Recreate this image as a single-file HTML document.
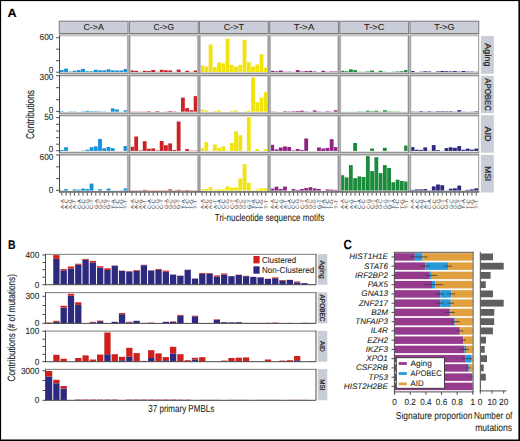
<!DOCTYPE html>
<html><head><meta charset="utf-8"><title>Figure</title>
<style>html,body{margin:0;padding:0;background:#fff;width:520px;height:441px;overflow:hidden;}
svg text{font-family:"Liberation Sans", sans-serif;stroke:#231f20;stroke-width:0.08px;}</style></head>
<body>
<svg width="520" height="441" viewBox="0 0 520 441" style="display:block">
<g font-family='"Liberation Sans", sans-serif' text-rendering="geometricPrecision">
<rect x="0.00" y="0.00" width="520.00" height="441.00" fill="#fff"/>
<text x="7.4" y="17.3" font-size="12" font-weight="bold" fill="#000" textLength="9.2" lengthAdjust="spacingAndGlyphs">A</text>
<rect x="59.25" y="21.20" width="68.80" height="12.30" fill="#c9cdd8" stroke="#7a7a7a" stroke-width="1"/>
<text x="93.65" y="30.00" font-size="8.6" fill="#231f20" text-anchor="middle" textLength="20.4" lengthAdjust="spacingAndGlyphs">C-&gt;A</text>
<rect x="129.39" y="21.20" width="68.80" height="12.30" fill="#c9cdd8" stroke="#7a7a7a" stroke-width="1"/>
<text x="163.79" y="30.00" font-size="8.6" fill="#231f20" text-anchor="middle" textLength="20.4" lengthAdjust="spacingAndGlyphs">C-&gt;G</text>
<rect x="199.53" y="21.20" width="68.80" height="12.30" fill="#c9cdd8" stroke="#7a7a7a" stroke-width="1"/>
<text x="233.93" y="30.00" font-size="8.6" fill="#231f20" text-anchor="middle" textLength="20.4" lengthAdjust="spacingAndGlyphs">C-&gt;T</text>
<rect x="269.67" y="21.20" width="68.80" height="12.30" fill="#c9cdd8" stroke="#7a7a7a" stroke-width="1"/>
<text x="304.07" y="30.00" font-size="8.6" fill="#231f20" text-anchor="middle" textLength="20.4" lengthAdjust="spacingAndGlyphs">T-&gt;A</text>
<rect x="339.81" y="21.20" width="68.80" height="12.30" fill="#c9cdd8" stroke="#7a7a7a" stroke-width="1"/>
<text x="374.21" y="30.00" font-size="8.6" fill="#231f20" text-anchor="middle" textLength="20.4" lengthAdjust="spacingAndGlyphs">T-&gt;C</text>
<rect x="409.95" y="21.20" width="68.80" height="12.30" fill="#c9cdd8" stroke="#7a7a7a" stroke-width="1"/>
<text x="444.35" y="30.00" font-size="8.6" fill="#231f20" text-anchor="middle" textLength="20.4" lengthAdjust="spacingAndGlyphs">T-&gt;G</text>
<rect x="59.00" y="34.00" width="420.00" height="2.40" fill="#c4c4c4"/>
<rect x="59.89" y="70.10" width="3.82" height="2.20" fill="#1890d8"/>
<rect x="64.13" y="68.60" width="3.82" height="3.70" fill="#1890d8"/>
<rect x="68.38" y="71.60" width="3.82" height="0.70" fill="#1890d8"/>
<rect x="72.63" y="70.80" width="3.82" height="1.50" fill="#1890d8"/>
<rect x="76.87" y="70.10" width="3.82" height="2.20" fill="#1890d8"/>
<rect x="81.12" y="68.90" width="3.82" height="3.40" fill="#1890d8"/>
<rect x="85.37" y="71.30" width="3.82" height="1.00" fill="#1890d8"/>
<rect x="89.62" y="71.30" width="3.82" height="1.00" fill="#1890d8"/>
<rect x="93.86" y="69.80" width="3.82" height="2.50" fill="#1890d8"/>
<rect x="98.11" y="70.30" width="3.82" height="2.00" fill="#1890d8"/>
<rect x="102.36" y="70.30" width="3.82" height="2.00" fill="#1890d8"/>
<rect x="106.60" y="69.30" width="3.82" height="3.00" fill="#1890d8"/>
<rect x="110.85" y="70.30" width="3.82" height="2.00" fill="#1890d8"/>
<rect x="115.10" y="70.50" width="3.82" height="1.80" fill="#1890d8"/>
<rect x="119.34" y="70.50" width="3.82" height="1.80" fill="#1890d8"/>
<rect x="123.59" y="69.00" width="3.82" height="3.30" fill="#1890d8"/>
<rect x="130.03" y="70.40" width="3.82" height="1.90" fill="#cc2127"/>
<rect x="134.27" y="70.80" width="3.82" height="1.50" fill="#cc2127"/>
<rect x="138.52" y="71.90" width="3.82" height="0.40" fill="#cc2127"/>
<rect x="142.77" y="70.80" width="3.82" height="1.50" fill="#cc2127"/>
<rect x="147.01" y="71.10" width="3.82" height="1.20" fill="#cc2127"/>
<rect x="151.26" y="70.00" width="3.82" height="2.30" fill="#cc2127"/>
<rect x="155.51" y="71.80" width="3.82" height="0.50" fill="#cc2127"/>
<rect x="159.76" y="69.80" width="3.82" height="2.50" fill="#cc2127"/>
<rect x="164.00" y="70.30" width="3.82" height="2.00" fill="#cc2127"/>
<rect x="168.25" y="70.40" width="3.82" height="1.90" fill="#cc2127"/>
<rect x="172.50" y="71.90" width="3.82" height="0.40" fill="#cc2127"/>
<rect x="176.74" y="69.60" width="3.82" height="2.70" fill="#cc2127"/>
<rect x="180.99" y="72.10" width="3.82" height="0.20" fill="#cc2127"/>
<rect x="185.24" y="70.80" width="3.82" height="1.50" fill="#cc2127"/>
<rect x="189.48" y="71.90" width="3.82" height="0.40" fill="#cc2127"/>
<rect x="193.73" y="70.40" width="3.82" height="1.90" fill="#cc2127"/>
<rect x="200.17" y="65.60" width="3.82" height="6.70" fill="#f1e30c"/>
<rect x="204.41" y="66.50" width="3.82" height="5.80" fill="#f1e30c"/>
<rect x="208.66" y="44.40" width="3.82" height="27.90" fill="#f1e30c"/>
<rect x="212.91" y="67.10" width="3.82" height="5.20" fill="#f1e30c"/>
<rect x="217.15" y="62.40" width="3.82" height="9.90" fill="#f1e30c"/>
<rect x="221.40" y="63.30" width="3.82" height="9.00" fill="#f1e30c"/>
<rect x="225.65" y="38.60" width="3.82" height="33.70" fill="#f1e30c"/>
<rect x="229.90" y="64.80" width="3.82" height="7.50" fill="#f1e30c"/>
<rect x="234.14" y="66.60" width="3.82" height="5.70" fill="#f1e30c"/>
<rect x="238.39" y="64.80" width="3.82" height="7.50" fill="#f1e30c"/>
<rect x="242.64" y="39.80" width="3.82" height="32.50" fill="#f1e30c"/>
<rect x="246.88" y="62.30" width="3.82" height="10.00" fill="#f1e30c"/>
<rect x="251.13" y="66.50" width="3.82" height="5.80" fill="#f1e30c"/>
<rect x="255.38" y="64.50" width="3.82" height="7.80" fill="#f1e30c"/>
<rect x="259.62" y="54.30" width="3.82" height="18.00" fill="#f1e30c"/>
<rect x="263.87" y="67.50" width="3.82" height="4.80" fill="#f1e30c"/>
<rect x="270.31" y="70.80" width="3.82" height="1.50" fill="#8e2383"/>
<rect x="274.55" y="71.30" width="3.82" height="1.00" fill="#8e2383"/>
<rect x="278.80" y="70.50" width="3.82" height="1.80" fill="#8e2383"/>
<rect x="283.05" y="71.70" width="3.82" height="0.60" fill="#8e2383"/>
<rect x="287.29" y="71.70" width="3.82" height="0.60" fill="#8e2383"/>
<rect x="291.54" y="71.90" width="3.82" height="0.40" fill="#8e2383"/>
<rect x="295.79" y="70.10" width="3.82" height="2.20" fill="#8e2383"/>
<rect x="300.04" y="71.50" width="3.82" height="0.80" fill="#8e2383"/>
<rect x="304.28" y="71.10" width="3.82" height="1.20" fill="#8e2383"/>
<rect x="308.53" y="70.80" width="3.82" height="1.50" fill="#8e2383"/>
<rect x="312.78" y="71.50" width="3.82" height="0.80" fill="#8e2383"/>
<rect x="317.02" y="72.00" width="3.82" height="0.30" fill="#8e2383"/>
<rect x="321.27" y="70.80" width="3.82" height="1.50" fill="#8e2383"/>
<rect x="325.52" y="71.80" width="3.82" height="0.50" fill="#8e2383"/>
<rect x="329.76" y="71.50" width="3.82" height="0.80" fill="#8e2383"/>
<rect x="334.01" y="71.50" width="3.82" height="0.80" fill="#8e2383"/>
<rect x="340.45" y="70.80" width="3.82" height="1.50" fill="#1c8c3c"/>
<rect x="344.69" y="71.30" width="3.82" height="1.00" fill="#1c8c3c"/>
<rect x="348.94" y="69.30" width="3.82" height="3.00" fill="#1c8c3c"/>
<rect x="353.19" y="70.10" width="3.82" height="2.20" fill="#1c8c3c"/>
<rect x="357.43" y="71.80" width="3.82" height="0.50" fill="#1c8c3c"/>
<rect x="361.68" y="71.80" width="3.82" height="0.50" fill="#1c8c3c"/>
<rect x="365.93" y="71.50" width="3.82" height="0.80" fill="#1c8c3c"/>
<rect x="370.18" y="70.50" width="3.82" height="1.80" fill="#1c8c3c"/>
<rect x="374.42" y="72.10" width="3.82" height="0.20" fill="#1c8c3c"/>
<rect x="378.67" y="70.80" width="3.82" height="1.50" fill="#1c8c3c"/>
<rect x="382.92" y="71.80" width="3.82" height="0.50" fill="#1c8c3c"/>
<rect x="387.16" y="72.10" width="3.82" height="0.20" fill="#1c8c3c"/>
<rect x="391.41" y="71.80" width="3.82" height="0.50" fill="#1c8c3c"/>
<rect x="395.66" y="71.50" width="3.82" height="0.80" fill="#1c8c3c"/>
<rect x="399.90" y="71.30" width="3.82" height="1.00" fill="#1c8c3c"/>
<rect x="404.15" y="70.00" width="3.82" height="2.30" fill="#1c8c3c"/>
<rect x="410.59" y="71.00" width="3.82" height="1.30" fill="#2b2a7d"/>
<rect x="414.83" y="72.00" width="3.82" height="0.30" fill="#2b2a7d"/>
<rect x="419.08" y="71.70" width="3.82" height="0.60" fill="#2b2a7d"/>
<rect x="423.33" y="71.30" width="3.82" height="1.00" fill="#2b2a7d"/>
<rect x="427.57" y="71.50" width="3.82" height="0.80" fill="#2b2a7d"/>
<rect x="431.82" y="72.10" width="3.82" height="0.20" fill="#2b2a7d"/>
<rect x="436.07" y="71.40" width="3.82" height="0.90" fill="#2b2a7d"/>
<rect x="440.32" y="71.00" width="3.82" height="1.30" fill="#2b2a7d"/>
<rect x="444.56" y="71.20" width="3.82" height="1.10" fill="#2b2a7d"/>
<rect x="448.81" y="71.40" width="3.82" height="0.90" fill="#2b2a7d"/>
<rect x="453.06" y="71.10" width="3.82" height="1.20" fill="#2b2a7d"/>
<rect x="457.30" y="71.70" width="3.82" height="0.60" fill="#2b2a7d"/>
<rect x="461.55" y="71.00" width="3.82" height="1.30" fill="#2b2a7d"/>
<rect x="465.80" y="71.60" width="3.82" height="0.70" fill="#2b2a7d"/>
<rect x="470.04" y="71.60" width="3.82" height="0.70" fill="#2b2a7d"/>
<rect x="474.29" y="71.80" width="3.82" height="0.50" fill="#2b2a7d"/>
<rect x="59.89" y="111.20" width="3.82" height="0.50" fill="#1890d8"/>
<rect x="68.38" y="111.40" width="3.82" height="0.30" fill="#1890d8"/>
<rect x="72.63" y="111.40" width="3.82" height="0.30" fill="#1890d8"/>
<rect x="81.12" y="111.40" width="3.82" height="0.30" fill="#1890d8"/>
<rect x="85.37" y="110.90" width="3.82" height="0.80" fill="#1890d8"/>
<rect x="89.62" y="111.20" width="3.82" height="0.50" fill="#1890d8"/>
<rect x="93.86" y="111.20" width="3.82" height="0.50" fill="#1890d8"/>
<rect x="98.11" y="111.40" width="3.82" height="0.30" fill="#1890d8"/>
<rect x="102.36" y="111.40" width="3.82" height="0.30" fill="#1890d8"/>
<rect x="110.85" y="108.40" width="3.82" height="3.30" fill="#1890d8"/>
<rect x="115.10" y="109.50" width="3.82" height="2.20" fill="#1890d8"/>
<rect x="123.59" y="110.20" width="3.82" height="1.50" fill="#1890d8"/>
<rect x="130.03" y="111.50" width="3.82" height="0.20" fill="#cc2127"/>
<rect x="134.27" y="111.50" width="3.82" height="0.20" fill="#cc2127"/>
<rect x="138.52" y="111.50" width="3.82" height="0.20" fill="#cc2127"/>
<rect x="142.77" y="111.50" width="3.82" height="0.20" fill="#cc2127"/>
<rect x="147.01" y="111.20" width="3.82" height="0.50" fill="#cc2127"/>
<rect x="155.51" y="111.10" width="3.82" height="0.60" fill="#cc2127"/>
<rect x="164.00" y="111.50" width="3.82" height="0.20" fill="#cc2127"/>
<rect x="168.25" y="111.10" width="3.82" height="0.60" fill="#cc2127"/>
<rect x="172.50" y="111.40" width="3.82" height="0.30" fill="#cc2127"/>
<rect x="180.99" y="97.60" width="3.82" height="14.10" fill="#cc2127"/>
<rect x="185.24" y="108.10" width="3.82" height="3.60" fill="#cc2127"/>
<rect x="189.48" y="110.20" width="3.82" height="1.50" fill="#cc2127"/>
<rect x="193.73" y="96.10" width="3.82" height="15.60" fill="#cc2127"/>
<rect x="200.17" y="109.60" width="3.82" height="2.10" fill="#f1e30c"/>
<rect x="204.41" y="110.40" width="3.82" height="1.30" fill="#f1e30c"/>
<rect x="212.91" y="111.10" width="3.82" height="0.60" fill="#f1e30c"/>
<rect x="217.15" y="110.40" width="3.82" height="1.30" fill="#f1e30c"/>
<rect x="229.90" y="111.10" width="3.82" height="0.60" fill="#f1e30c"/>
<rect x="234.14" y="110.40" width="3.82" height="1.30" fill="#f1e30c"/>
<rect x="242.64" y="111.40" width="3.82" height="0.30" fill="#f1e30c"/>
<rect x="246.88" y="110.70" width="3.82" height="1.00" fill="#f1e30c"/>
<rect x="251.13" y="77.50" width="3.82" height="34.20" fill="#f1e30c"/>
<rect x="255.38" y="102.10" width="3.82" height="9.60" fill="#f1e30c"/>
<rect x="259.62" y="97.60" width="3.82" height="14.10" fill="#f1e30c"/>
<rect x="263.87" y="92.20" width="3.82" height="19.50" fill="#f1e30c"/>
<rect x="270.31" y="111.40" width="3.82" height="0.30" fill="#8e2383"/>
<rect x="274.55" y="111.60" width="3.82" height="0.10" fill="#8e2383"/>
<rect x="283.05" y="111.20" width="3.82" height="0.50" fill="#8e2383"/>
<rect x="287.29" y="111.40" width="3.82" height="0.30" fill="#8e2383"/>
<rect x="291.54" y="111.20" width="3.82" height="0.50" fill="#8e2383"/>
<rect x="295.79" y="111.00" width="3.82" height="0.70" fill="#8e2383"/>
<rect x="300.04" y="110.70" width="3.82" height="1.00" fill="#8e2383"/>
<rect x="304.28" y="111.40" width="3.82" height="0.30" fill="#8e2383"/>
<rect x="308.53" y="111.60" width="3.82" height="0.10" fill="#8e2383"/>
<rect x="312.78" y="110.40" width="3.82" height="1.30" fill="#8e2383"/>
<rect x="317.02" y="111.40" width="3.82" height="0.30" fill="#8e2383"/>
<rect x="321.27" y="111.60" width="3.82" height="0.10" fill="#8e2383"/>
<rect x="325.52" y="111.20" width="3.82" height="0.50" fill="#8e2383"/>
<rect x="329.76" y="111.50" width="3.82" height="0.20" fill="#8e2383"/>
<rect x="334.01" y="110.20" width="3.82" height="1.50" fill="#8e2383"/>
<rect x="340.45" y="111.60" width="3.82" height="0.10" fill="#1c8c3c"/>
<rect x="344.69" y="111.60" width="3.82" height="0.10" fill="#1c8c3c"/>
<rect x="348.94" y="111.60" width="3.82" height="0.10" fill="#1c8c3c"/>
<rect x="353.19" y="111.60" width="3.82" height="0.10" fill="#1c8c3c"/>
<rect x="357.43" y="111.40" width="3.82" height="0.30" fill="#1c8c3c"/>
<rect x="361.68" y="111.50" width="3.82" height="0.20" fill="#1c8c3c"/>
<rect x="365.93" y="110.70" width="3.82" height="1.00" fill="#1c8c3c"/>
<rect x="370.18" y="111.20" width="3.82" height="0.50" fill="#1c8c3c"/>
<rect x="374.42" y="110.70" width="3.82" height="1.00" fill="#1c8c3c"/>
<rect x="378.67" y="111.50" width="3.82" height="0.20" fill="#1c8c3c"/>
<rect x="382.92" y="110.20" width="3.82" height="1.50" fill="#1c8c3c"/>
<rect x="387.16" y="111.30" width="3.82" height="0.40" fill="#1c8c3c"/>
<rect x="391.41" y="111.40" width="3.82" height="0.30" fill="#1c8c3c"/>
<rect x="395.66" y="111.40" width="3.82" height="0.30" fill="#1c8c3c"/>
<rect x="399.90" y="111.60" width="3.82" height="0.10" fill="#1c8c3c"/>
<rect x="404.15" y="111.60" width="3.82" height="0.10" fill="#1c8c3c"/>
<rect x="410.59" y="111.40" width="3.82" height="0.30" fill="#2b2a7d"/>
<rect x="414.83" y="111.50" width="3.82" height="0.20" fill="#2b2a7d"/>
<rect x="419.08" y="111.10" width="3.82" height="0.60" fill="#2b2a7d"/>
<rect x="423.33" y="111.50" width="3.82" height="0.20" fill="#2b2a7d"/>
<rect x="427.57" y="111.20" width="3.82" height="0.50" fill="#2b2a7d"/>
<rect x="431.82" y="111.50" width="3.82" height="0.20" fill="#2b2a7d"/>
<rect x="436.07" y="111.20" width="3.82" height="0.50" fill="#2b2a7d"/>
<rect x="440.32" y="111.20" width="3.82" height="0.50" fill="#2b2a7d"/>
<rect x="444.56" y="111.20" width="3.82" height="0.50" fill="#2b2a7d"/>
<rect x="448.81" y="111.20" width="3.82" height="0.50" fill="#2b2a7d"/>
<rect x="453.06" y="111.50" width="3.82" height="0.20" fill="#2b2a7d"/>
<rect x="457.30" y="110.20" width="3.82" height="1.50" fill="#2b2a7d"/>
<rect x="461.55" y="111.50" width="3.82" height="0.20" fill="#2b2a7d"/>
<rect x="465.80" y="111.60" width="3.82" height="0.10" fill="#2b2a7d"/>
<rect x="470.04" y="111.50" width="3.82" height="0.20" fill="#2b2a7d"/>
<rect x="474.29" y="111.20" width="3.82" height="0.50" fill="#2b2a7d"/>
<rect x="59.89" y="150.00" width="3.82" height="0.90" fill="#1890d8"/>
<rect x="64.13" y="147.20" width="3.82" height="3.70" fill="#1890d8"/>
<rect x="81.12" y="150.60" width="3.82" height="0.30" fill="#1890d8"/>
<rect x="85.37" y="149.70" width="3.82" height="1.20" fill="#1890d8"/>
<rect x="89.62" y="147.20" width="3.82" height="3.70" fill="#1890d8"/>
<rect x="93.86" y="146.40" width="3.82" height="4.50" fill="#1890d8"/>
<rect x="98.11" y="138.90" width="3.82" height="12.00" fill="#1890d8"/>
<rect x="102.36" y="148.20" width="3.82" height="2.70" fill="#1890d8"/>
<rect x="106.60" y="147.00" width="3.82" height="3.90" fill="#1890d8"/>
<rect x="110.85" y="148.20" width="3.82" height="2.70" fill="#1890d8"/>
<rect x="123.59" y="146.00" width="3.82" height="4.90" fill="#1890d8"/>
<rect x="130.03" y="146.70" width="3.82" height="4.20" fill="#cc2127"/>
<rect x="134.27" y="136.50" width="3.82" height="14.40" fill="#cc2127"/>
<rect x="138.52" y="150.40" width="3.82" height="0.50" fill="#cc2127"/>
<rect x="142.77" y="141.20" width="3.82" height="9.70" fill="#cc2127"/>
<rect x="147.01" y="148.70" width="3.82" height="2.20" fill="#cc2127"/>
<rect x="151.26" y="148.40" width="3.82" height="2.50" fill="#cc2127"/>
<rect x="155.51" y="150.40" width="3.82" height="0.50" fill="#cc2127"/>
<rect x="159.76" y="141.00" width="3.82" height="9.90" fill="#cc2127"/>
<rect x="164.00" y="145.20" width="3.82" height="5.70" fill="#cc2127"/>
<rect x="168.25" y="143.40" width="3.82" height="7.50" fill="#cc2127"/>
<rect x="172.50" y="150.00" width="3.82" height="0.90" fill="#cc2127"/>
<rect x="176.74" y="121.50" width="3.82" height="29.40" fill="#cc2127"/>
<rect x="185.24" y="149.10" width="3.82" height="1.80" fill="#cc2127"/>
<rect x="189.48" y="150.60" width="3.82" height="0.30" fill="#cc2127"/>
<rect x="193.73" y="150.60" width="3.82" height="0.30" fill="#cc2127"/>
<rect x="200.17" y="148.20" width="3.82" height="2.70" fill="#f1e30c"/>
<rect x="204.41" y="142.20" width="3.82" height="8.70" fill="#f1e30c"/>
<rect x="212.91" y="144.50" width="3.82" height="6.40" fill="#f1e30c"/>
<rect x="217.15" y="147.90" width="3.82" height="3.00" fill="#f1e30c"/>
<rect x="221.40" y="146.40" width="3.82" height="4.50" fill="#f1e30c"/>
<rect x="229.90" y="143.00" width="3.82" height="7.90" fill="#f1e30c"/>
<rect x="234.14" y="131.40" width="3.82" height="19.50" fill="#f1e30c"/>
<rect x="238.39" y="135.20" width="3.82" height="15.70" fill="#f1e30c"/>
<rect x="246.88" y="117.20" width="3.82" height="33.70" fill="#f1e30c"/>
<rect x="255.38" y="149.00" width="3.82" height="1.90" fill="#f1e30c"/>
<rect x="263.87" y="149.10" width="3.82" height="1.80" fill="#f1e30c"/>
<rect x="270.31" y="144.80" width="3.82" height="6.10" fill="#8e2383"/>
<rect x="274.55" y="149.40" width="3.82" height="1.50" fill="#8e2383"/>
<rect x="278.80" y="147.50" width="3.82" height="3.40" fill="#8e2383"/>
<rect x="283.05" y="146.40" width="3.82" height="4.50" fill="#8e2383"/>
<rect x="287.29" y="147.00" width="3.82" height="3.90" fill="#8e2383"/>
<rect x="291.54" y="150.40" width="3.82" height="0.50" fill="#8e2383"/>
<rect x="295.79" y="149.00" width="3.82" height="1.90" fill="#8e2383"/>
<rect x="300.04" y="150.00" width="3.82" height="0.90" fill="#8e2383"/>
<rect x="304.28" y="138.50" width="3.82" height="12.40" fill="#8e2383"/>
<rect x="317.02" y="147.50" width="3.82" height="3.40" fill="#8e2383"/>
<rect x="321.27" y="148.50" width="3.82" height="2.40" fill="#8e2383"/>
<rect x="325.52" y="147.90" width="3.82" height="3.00" fill="#8e2383"/>
<rect x="329.76" y="139.20" width="3.82" height="11.70" fill="#8e2383"/>
<rect x="334.01" y="147.00" width="3.82" height="3.90" fill="#8e2383"/>
<rect x="353.19" y="143.00" width="3.82" height="7.90" fill="#1c8c3c"/>
<rect x="370.18" y="148.50" width="3.82" height="2.40" fill="#1c8c3c"/>
<rect x="382.92" y="147.80" width="3.82" height="3.10" fill="#1c8c3c"/>
<rect x="404.15" y="145.50" width="3.82" height="5.40" fill="#1c8c3c"/>
<rect x="410.59" y="147.10" width="3.82" height="3.80" fill="#2b2a7d"/>
<rect x="414.83" y="149.70" width="3.82" height="1.20" fill="#2b2a7d"/>
<rect x="419.08" y="149.90" width="3.82" height="1.00" fill="#2b2a7d"/>
<rect x="423.33" y="147.40" width="3.82" height="3.50" fill="#2b2a7d"/>
<rect x="427.57" y="150.70" width="3.82" height="0.20" fill="#2b2a7d"/>
<rect x="431.82" y="145.10" width="3.82" height="5.80" fill="#2b2a7d"/>
<rect x="436.07" y="150.10" width="3.82" height="0.80" fill="#2b2a7d"/>
<rect x="440.32" y="150.80" width="3.82" height="0.10" fill="#2b2a7d"/>
<rect x="444.56" y="148.10" width="3.82" height="2.80" fill="#2b2a7d"/>
<rect x="448.81" y="147.30" width="3.82" height="3.60" fill="#2b2a7d"/>
<rect x="453.06" y="147.80" width="3.82" height="3.10" fill="#2b2a7d"/>
<rect x="457.30" y="146.10" width="3.82" height="4.80" fill="#2b2a7d"/>
<rect x="461.55" y="149.70" width="3.82" height="1.20" fill="#2b2a7d"/>
<rect x="465.80" y="148.60" width="3.82" height="2.30" fill="#2b2a7d"/>
<rect x="470.04" y="149.60" width="3.82" height="1.30" fill="#2b2a7d"/>
<rect x="474.29" y="148.60" width="3.82" height="2.30" fill="#2b2a7d"/>
<rect x="59.89" y="190.30" width="3.82" height="0.30" fill="#1890d8"/>
<rect x="64.13" y="189.10" width="3.82" height="1.50" fill="#1890d8"/>
<rect x="72.63" y="189.40" width="3.82" height="1.20" fill="#1890d8"/>
<rect x="76.87" y="189.70" width="3.82" height="0.90" fill="#1890d8"/>
<rect x="81.12" y="188.60" width="3.82" height="2.00" fill="#1890d8"/>
<rect x="85.37" y="189.00" width="3.82" height="1.60" fill="#1890d8"/>
<rect x="89.62" y="183.60" width="3.82" height="7.00" fill="#1890d8"/>
<rect x="98.11" y="189.20" width="3.82" height="1.40" fill="#1890d8"/>
<rect x="106.60" y="188.60" width="3.82" height="2.00" fill="#1890d8"/>
<rect x="110.85" y="190.40" width="3.82" height="0.20" fill="#1890d8"/>
<rect x="115.10" y="190.40" width="3.82" height="0.20" fill="#1890d8"/>
<rect x="119.34" y="190.30" width="3.82" height="0.30" fill="#1890d8"/>
<rect x="123.59" y="188.40" width="3.82" height="2.20" fill="#1890d8"/>
<rect x="130.03" y="190.30" width="3.82" height="0.30" fill="#cc2127"/>
<rect x="134.27" y="190.30" width="3.82" height="0.30" fill="#cc2127"/>
<rect x="138.52" y="190.30" width="3.82" height="0.30" fill="#cc2127"/>
<rect x="142.77" y="189.80" width="3.82" height="0.80" fill="#cc2127"/>
<rect x="147.01" y="190.30" width="3.82" height="0.30" fill="#cc2127"/>
<rect x="151.26" y="190.30" width="3.82" height="0.30" fill="#cc2127"/>
<rect x="155.51" y="190.30" width="3.82" height="0.30" fill="#cc2127"/>
<rect x="159.76" y="190.30" width="3.82" height="0.30" fill="#cc2127"/>
<rect x="164.00" y="190.30" width="3.82" height="0.30" fill="#cc2127"/>
<rect x="168.25" y="189.40" width="3.82" height="1.20" fill="#cc2127"/>
<rect x="172.50" y="190.30" width="3.82" height="0.30" fill="#cc2127"/>
<rect x="176.74" y="189.80" width="3.82" height="0.80" fill="#cc2127"/>
<rect x="180.99" y="190.30" width="3.82" height="0.30" fill="#cc2127"/>
<rect x="185.24" y="190.00" width="3.82" height="0.60" fill="#cc2127"/>
<rect x="189.48" y="190.30" width="3.82" height="0.30" fill="#cc2127"/>
<rect x="193.73" y="190.30" width="3.82" height="0.30" fill="#cc2127"/>
<rect x="200.17" y="189.40" width="3.82" height="1.20" fill="#f1e30c"/>
<rect x="204.41" y="189.00" width="3.82" height="1.60" fill="#f1e30c"/>
<rect x="208.66" y="187.20" width="3.82" height="3.40" fill="#f1e30c"/>
<rect x="212.91" y="189.90" width="3.82" height="0.70" fill="#f1e30c"/>
<rect x="217.15" y="189.40" width="3.82" height="1.20" fill="#f1e30c"/>
<rect x="221.40" y="189.30" width="3.82" height="1.30" fill="#f1e30c"/>
<rect x="225.65" y="186.40" width="3.82" height="4.20" fill="#f1e30c"/>
<rect x="229.90" y="187.60" width="3.82" height="3.00" fill="#f1e30c"/>
<rect x="234.14" y="187.50" width="3.82" height="3.10" fill="#f1e30c"/>
<rect x="238.39" y="178.60" width="3.82" height="12.00" fill="#f1e30c"/>
<rect x="242.64" y="164.20" width="3.82" height="26.40" fill="#f1e30c"/>
<rect x="246.88" y="182.70" width="3.82" height="7.90" fill="#f1e30c"/>
<rect x="251.13" y="190.30" width="3.82" height="0.30" fill="#f1e30c"/>
<rect x="255.38" y="189.40" width="3.82" height="1.20" fill="#f1e30c"/>
<rect x="259.62" y="188.40" width="3.82" height="2.20" fill="#f1e30c"/>
<rect x="263.87" y="188.40" width="3.82" height="2.20" fill="#f1e30c"/>
<rect x="270.31" y="188.60" width="3.82" height="2.00" fill="#8e2383"/>
<rect x="274.55" y="186.70" width="3.82" height="3.90" fill="#8e2383"/>
<rect x="278.80" y="189.00" width="3.82" height="1.60" fill="#8e2383"/>
<rect x="283.05" y="186.60" width="3.82" height="4.00" fill="#8e2383"/>
<rect x="291.54" y="189.00" width="3.82" height="1.60" fill="#8e2383"/>
<rect x="295.79" y="189.90" width="3.82" height="0.70" fill="#8e2383"/>
<rect x="300.04" y="189.00" width="3.82" height="1.60" fill="#8e2383"/>
<rect x="304.28" y="188.10" width="3.82" height="2.50" fill="#8e2383"/>
<rect x="308.53" y="187.20" width="3.82" height="3.40" fill="#8e2383"/>
<rect x="312.78" y="188.40" width="3.82" height="2.20" fill="#8e2383"/>
<rect x="317.02" y="189.00" width="3.82" height="1.60" fill="#8e2383"/>
<rect x="325.52" y="189.40" width="3.82" height="1.20" fill="#8e2383"/>
<rect x="329.76" y="189.60" width="3.82" height="1.00" fill="#8e2383"/>
<rect x="334.01" y="189.90" width="3.82" height="0.70" fill="#8e2383"/>
<rect x="340.45" y="175.20" width="3.82" height="15.40" fill="#1c8c3c"/>
<rect x="344.69" y="177.40" width="3.82" height="13.20" fill="#1c8c3c"/>
<rect x="348.94" y="165.10" width="3.82" height="25.50" fill="#1c8c3c"/>
<rect x="353.19" y="178.20" width="3.82" height="12.40" fill="#1c8c3c"/>
<rect x="357.43" y="176.40" width="3.82" height="14.20" fill="#1c8c3c"/>
<rect x="361.68" y="177.00" width="3.82" height="13.60" fill="#1c8c3c"/>
<rect x="365.93" y="156.10" width="3.82" height="34.50" fill="#1c8c3c"/>
<rect x="370.18" y="171.10" width="3.82" height="19.50" fill="#1c8c3c"/>
<rect x="374.42" y="157.20" width="3.82" height="33.40" fill="#1c8c3c"/>
<rect x="378.67" y="173.10" width="3.82" height="17.50" fill="#1c8c3c"/>
<rect x="382.92" y="165.10" width="3.82" height="25.50" fill="#1c8c3c"/>
<rect x="387.16" y="168.00" width="3.82" height="22.60" fill="#1c8c3c"/>
<rect x="391.41" y="182.20" width="3.82" height="8.40" fill="#1c8c3c"/>
<rect x="395.66" y="179.70" width="3.82" height="10.90" fill="#1c8c3c"/>
<rect x="399.90" y="180.90" width="3.82" height="9.70" fill="#1c8c3c"/>
<rect x="404.15" y="181.50" width="3.82" height="9.10" fill="#1c8c3c"/>
<rect x="410.59" y="189.90" width="3.82" height="0.70" fill="#2b2a7d"/>
<rect x="414.83" y="189.40" width="3.82" height="1.20" fill="#2b2a7d"/>
<rect x="419.08" y="189.40" width="3.82" height="1.20" fill="#2b2a7d"/>
<rect x="423.33" y="189.10" width="3.82" height="1.50" fill="#2b2a7d"/>
<rect x="427.57" y="190.30" width="3.82" height="0.30" fill="#2b2a7d"/>
<rect x="431.82" y="186.40" width="3.82" height="4.20" fill="#2b2a7d"/>
<rect x="436.07" y="184.50" width="3.82" height="6.10" fill="#2b2a7d"/>
<rect x="440.32" y="185.20" width="3.82" height="5.40" fill="#2b2a7d"/>
<rect x="444.56" y="190.40" width="3.82" height="0.20" fill="#2b2a7d"/>
<rect x="448.81" y="188.70" width="3.82" height="1.90" fill="#2b2a7d"/>
<rect x="453.06" y="188.30" width="3.82" height="2.30" fill="#2b2a7d"/>
<rect x="457.30" y="185.60" width="3.82" height="5.00" fill="#2b2a7d"/>
<rect x="461.55" y="190.40" width="3.82" height="0.20" fill="#2b2a7d"/>
<rect x="465.80" y="189.80" width="3.82" height="0.80" fill="#2b2a7d"/>
<rect x="470.04" y="189.30" width="3.82" height="1.30" fill="#2b2a7d"/>
<rect x="474.29" y="188.30" width="3.82" height="2.30" fill="#2b2a7d"/>
<rect x="59.50" y="72.20" width="419.40" height="4.50" fill="#cfcfcf"/>
<rect x="59.50" y="112.10" width="419.40" height="4.50" fill="#cfcfcf"/>
<rect x="59.50" y="151.40" width="419.40" height="4.50" fill="#cfcfcf"/>
<rect x="126.80" y="34.50" width="4.00" height="157.90" fill="#cfcfcf"/>
<rect x="196.94" y="34.50" width="4.00" height="157.90" fill="#cfcfcf"/>
<rect x="267.08" y="34.50" width="4.00" height="157.90" fill="#cfcfcf"/>
<rect x="337.22" y="34.50" width="4.00" height="157.90" fill="#cfcfcf"/>
<rect x="407.36" y="34.50" width="4.00" height="157.90" fill="#cfcfcf"/>
<rect x="59.05" y="72.95" width="69.40" height="0.90" fill="#8a8a8a"/>
<rect x="127.55" y="35.15" width="0.90" height="38.70" fill="#8a8a8a"/>
<rect x="129.15" y="72.95" width="69.44" height="0.90" fill="#8a8a8a"/>
<rect x="197.69" y="35.15" width="0.90" height="38.70" fill="#8a8a8a"/>
<rect x="129.15" y="35.15" width="0.90" height="38.70" fill="#8a8a8a"/>
<rect x="199.29" y="72.95" width="69.44" height="0.90" fill="#8a8a8a"/>
<rect x="267.83" y="35.15" width="0.90" height="38.70" fill="#8a8a8a"/>
<rect x="199.29" y="35.15" width="0.90" height="38.70" fill="#8a8a8a"/>
<rect x="269.43" y="72.95" width="69.44" height="0.90" fill="#8a8a8a"/>
<rect x="337.97" y="35.15" width="0.90" height="38.70" fill="#8a8a8a"/>
<rect x="269.43" y="35.15" width="0.90" height="38.70" fill="#8a8a8a"/>
<rect x="339.57" y="72.95" width="69.44" height="0.90" fill="#8a8a8a"/>
<rect x="408.11" y="35.15" width="0.90" height="38.70" fill="#8a8a8a"/>
<rect x="339.57" y="35.15" width="0.90" height="38.70" fill="#8a8a8a"/>
<rect x="409.71" y="72.95" width="69.44" height="0.90" fill="#8a8a8a"/>
<rect x="478.25" y="35.15" width="0.90" height="38.70" fill="#8a8a8a"/>
<rect x="409.71" y="35.15" width="0.90" height="38.70" fill="#8a8a8a"/>
<rect x="59.05" y="75.05" width="69.40" height="0.90" fill="#8a8a8a"/>
<rect x="59.05" y="112.85" width="69.40" height="0.90" fill="#8a8a8a"/>
<rect x="127.55" y="75.05" width="0.90" height="38.70" fill="#8a8a8a"/>
<rect x="129.15" y="75.05" width="69.44" height="0.90" fill="#8a8a8a"/>
<rect x="129.15" y="112.85" width="69.44" height="0.90" fill="#8a8a8a"/>
<rect x="197.69" y="75.05" width="0.90" height="38.70" fill="#8a8a8a"/>
<rect x="129.15" y="75.05" width="0.90" height="38.70" fill="#8a8a8a"/>
<rect x="199.29" y="75.05" width="69.44" height="0.90" fill="#8a8a8a"/>
<rect x="199.29" y="112.85" width="69.44" height="0.90" fill="#8a8a8a"/>
<rect x="267.83" y="75.05" width="0.90" height="38.70" fill="#8a8a8a"/>
<rect x="199.29" y="75.05" width="0.90" height="38.70" fill="#8a8a8a"/>
<rect x="269.43" y="75.05" width="69.44" height="0.90" fill="#8a8a8a"/>
<rect x="269.43" y="112.85" width="69.44" height="0.90" fill="#8a8a8a"/>
<rect x="337.97" y="75.05" width="0.90" height="38.70" fill="#8a8a8a"/>
<rect x="269.43" y="75.05" width="0.90" height="38.70" fill="#8a8a8a"/>
<rect x="339.57" y="75.05" width="69.44" height="0.90" fill="#8a8a8a"/>
<rect x="339.57" y="112.85" width="69.44" height="0.90" fill="#8a8a8a"/>
<rect x="408.11" y="75.05" width="0.90" height="38.70" fill="#8a8a8a"/>
<rect x="339.57" y="75.05" width="0.90" height="38.70" fill="#8a8a8a"/>
<rect x="409.71" y="75.05" width="69.44" height="0.90" fill="#8a8a8a"/>
<rect x="409.71" y="112.85" width="69.44" height="0.90" fill="#8a8a8a"/>
<rect x="478.25" y="75.05" width="0.90" height="38.70" fill="#8a8a8a"/>
<rect x="409.71" y="75.05" width="0.90" height="38.70" fill="#8a8a8a"/>
<rect x="59.05" y="114.95" width="69.40" height="0.90" fill="#8a8a8a"/>
<rect x="59.05" y="152.15" width="69.40" height="0.90" fill="#8a8a8a"/>
<rect x="127.55" y="114.95" width="0.90" height="38.10" fill="#8a8a8a"/>
<rect x="129.15" y="114.95" width="69.44" height="0.90" fill="#8a8a8a"/>
<rect x="129.15" y="152.15" width="69.44" height="0.90" fill="#8a8a8a"/>
<rect x="197.69" y="114.95" width="0.90" height="38.10" fill="#8a8a8a"/>
<rect x="129.15" y="114.95" width="0.90" height="38.10" fill="#8a8a8a"/>
<rect x="199.29" y="114.95" width="69.44" height="0.90" fill="#8a8a8a"/>
<rect x="199.29" y="152.15" width="69.44" height="0.90" fill="#8a8a8a"/>
<rect x="267.83" y="114.95" width="0.90" height="38.10" fill="#8a8a8a"/>
<rect x="199.29" y="114.95" width="0.90" height="38.10" fill="#8a8a8a"/>
<rect x="269.43" y="114.95" width="69.44" height="0.90" fill="#8a8a8a"/>
<rect x="269.43" y="152.15" width="69.44" height="0.90" fill="#8a8a8a"/>
<rect x="337.97" y="114.95" width="0.90" height="38.10" fill="#8a8a8a"/>
<rect x="269.43" y="114.95" width="0.90" height="38.10" fill="#8a8a8a"/>
<rect x="339.57" y="114.95" width="69.44" height="0.90" fill="#8a8a8a"/>
<rect x="339.57" y="152.15" width="69.44" height="0.90" fill="#8a8a8a"/>
<rect x="408.11" y="114.95" width="0.90" height="38.10" fill="#8a8a8a"/>
<rect x="339.57" y="114.95" width="0.90" height="38.10" fill="#8a8a8a"/>
<rect x="409.71" y="114.95" width="69.44" height="0.90" fill="#8a8a8a"/>
<rect x="409.71" y="152.15" width="69.44" height="0.90" fill="#8a8a8a"/>
<rect x="478.25" y="114.95" width="0.90" height="38.10" fill="#8a8a8a"/>
<rect x="409.71" y="114.95" width="0.90" height="38.10" fill="#8a8a8a"/>
<rect x="59.05" y="154.25" width="69.40" height="0.90" fill="#8a8a8a"/>
<rect x="127.55" y="154.25" width="0.90" height="38.10" fill="#8a8a8a"/>
<rect x="129.15" y="154.25" width="69.44" height="0.90" fill="#8a8a8a"/>
<rect x="197.69" y="154.25" width="0.90" height="38.10" fill="#8a8a8a"/>
<rect x="129.15" y="154.25" width="0.90" height="38.10" fill="#8a8a8a"/>
<rect x="199.29" y="154.25" width="69.44" height="0.90" fill="#8a8a8a"/>
<rect x="267.83" y="154.25" width="0.90" height="38.10" fill="#8a8a8a"/>
<rect x="199.29" y="154.25" width="0.90" height="38.10" fill="#8a8a8a"/>
<rect x="269.43" y="154.25" width="69.44" height="0.90" fill="#8a8a8a"/>
<rect x="337.97" y="154.25" width="0.90" height="38.10" fill="#8a8a8a"/>
<rect x="269.43" y="154.25" width="0.90" height="38.10" fill="#8a8a8a"/>
<rect x="339.57" y="154.25" width="69.44" height="0.90" fill="#8a8a8a"/>
<rect x="408.11" y="154.25" width="0.90" height="38.10" fill="#8a8a8a"/>
<rect x="339.57" y="154.25" width="0.90" height="38.10" fill="#8a8a8a"/>
<rect x="409.71" y="154.25" width="69.44" height="0.90" fill="#8a8a8a"/>
<rect x="478.25" y="154.25" width="0.90" height="38.10" fill="#8a8a8a"/>
<rect x="409.71" y="154.25" width="0.90" height="38.10" fill="#8a8a8a"/>
<rect x="59.00" y="35.10" width="1.00" height="38.80" fill="#4d4d4d"/>
<rect x="59.00" y="75.00" width="1.00" height="38.80" fill="#4d4d4d"/>
<rect x="59.00" y="114.90" width="1.00" height="38.20" fill="#4d4d4d"/>
<rect x="59.00" y="154.20" width="1.00" height="38.20" fill="#4d4d4d"/>
<rect x="59.00" y="191.30" width="69.50" height="1.30" fill="#444"/>
<rect x="129.00" y="191.30" width="69.64" height="1.30" fill="#444"/>
<rect x="199.14" y="191.30" width="69.64" height="1.30" fill="#444"/>
<rect x="269.28" y="191.30" width="69.64" height="1.30" fill="#444"/>
<rect x="339.42" y="191.30" width="69.64" height="1.30" fill="#444"/>
<rect x="409.56" y="191.30" width="69.64" height="1.30" fill="#444"/>
<rect x="480.90" y="36.10" width="12.90" height="37.60" fill="#c9cdd8"/>
<rect x="480.90" y="75.80" width="12.90" height="37.40" fill="#c9cdd8"/>
<rect x="480.90" y="115.30" width="12.90" height="37.40" fill="#c9cdd8"/>
<rect x="480.90" y="154.80" width="12.90" height="37.70" fill="#c9cdd8"/>
<text x="484.80" y="54.90" font-size="8.5" fill="#231f20" text-anchor="middle" textLength="23.1" lengthAdjust="spacingAndGlyphs" transform="rotate(90 484.80 54.90)" style="stroke-width:0.25px">Aging</text>
<text x="484.80" y="94.50" font-size="8.5" fill="#231f20" text-anchor="middle" textLength="32.6" lengthAdjust="spacingAndGlyphs" transform="rotate(90 484.80 94.50)" style="stroke-width:0.25px">APOBEC</text>
<text x="484.80" y="134.00" font-size="8.5" fill="#231f20" text-anchor="middle" textLength="14.9" lengthAdjust="spacingAndGlyphs" transform="rotate(90 484.80 134.00)" style="stroke-width:0.25px">AID</text>
<text x="484.80" y="173.65" font-size="8.5" fill="#231f20" text-anchor="middle" textLength="14.9" lengthAdjust="spacingAndGlyphs" transform="rotate(90 484.80 173.65)" style="stroke-width:0.25px">MSI</text>
<rect x="56.10" y="37.20" width="3.20" height="1.00" fill="#4d4d4d"/>
<rect x="56.10" y="48.70" width="3.20" height="1.00" fill="#4d4d4d"/>
<rect x="56.10" y="60.20" width="3.20" height="1.00" fill="#4d4d4d"/>
<rect x="56.10" y="71.70" width="3.20" height="1.00" fill="#4d4d4d"/>
<text x="53.40" y="40.45" font-size="8.9" fill="#231f20" text-anchor="end" textLength="13.799999999999999" lengthAdjust="spacingAndGlyphs">600</text>
<text x="53.40" y="73.25" font-size="8.9" fill="#231f20" text-anchor="end" textLength="4.6" lengthAdjust="spacingAndGlyphs">0</text>
<rect x="56.10" y="75.20" width="3.20" height="1.00" fill="#4d4d4d"/>
<rect x="56.10" y="87.20" width="3.20" height="1.00" fill="#4d4d4d"/>
<rect x="56.10" y="99.20" width="3.20" height="1.00" fill="#4d4d4d"/>
<rect x="56.10" y="110.90" width="3.20" height="1.00" fill="#4d4d4d"/>
<text x="53.40" y="79.90" font-size="8.9" fill="#231f20" text-anchor="end" textLength="13.799999999999999" lengthAdjust="spacingAndGlyphs">300</text>
<text x="53.40" y="112.55" font-size="8.9" fill="#231f20" text-anchor="end" textLength="4.6" lengthAdjust="spacingAndGlyphs">0</text>
<rect x="56.10" y="117.10" width="3.20" height="1.00" fill="#4d4d4d"/>
<rect x="56.10" y="123.80" width="3.20" height="1.00" fill="#4d4d4d"/>
<rect x="56.10" y="130.50" width="3.20" height="1.00" fill="#4d4d4d"/>
<rect x="56.10" y="137.20" width="3.20" height="1.00" fill="#4d4d4d"/>
<rect x="56.10" y="143.70" width="3.20" height="1.00" fill="#4d4d4d"/>
<rect x="56.10" y="150.20" width="3.20" height="1.00" fill="#4d4d4d"/>
<text x="53.40" y="120.40" font-size="8.9" fill="#231f20" text-anchor="end" textLength="9.2" lengthAdjust="spacingAndGlyphs">50</text>
<text x="53.40" y="152.15" font-size="8.9" fill="#231f20" text-anchor="end" textLength="4.6" lengthAdjust="spacingAndGlyphs">0</text>
<rect x="56.10" y="154.50" width="3.20" height="1.00" fill="#4d4d4d"/>
<rect x="56.10" y="166.30" width="3.20" height="1.00" fill="#4d4d4d"/>
<rect x="56.10" y="178.10" width="3.20" height="1.00" fill="#4d4d4d"/>
<rect x="56.10" y="189.90" width="3.20" height="1.00" fill="#4d4d4d"/>
<text x="53.40" y="159.55" font-size="8.9" fill="#231f20" text-anchor="end" textLength="13.799999999999999" lengthAdjust="spacingAndGlyphs">600</text>
<text x="53.40" y="193.15" font-size="8.9" fill="#231f20" text-anchor="end" textLength="4.6" lengthAdjust="spacingAndGlyphs">0</text>
<rect x="61.30" y="192.50" width="1.00" height="3.10" fill="#555"/>
<text x="63.60" y="208.9" font-size="5" fill="#333" style="stroke-width:0" transform="rotate(-90 63.60 208.9)" textLength="9.7" lengthAdjust="spacingAndGlyphs">A-A</text>
<rect x="65.55" y="192.50" width="1.00" height="3.10" fill="#555"/>
<text x="67.85" y="208.9" font-size="5" fill="#333" style="stroke-width:0" transform="rotate(-90 67.85 208.9)" textLength="9.7" lengthAdjust="spacingAndGlyphs">A-C</text>
<rect x="69.79" y="192.50" width="1.00" height="3.10" fill="#555"/>
<text x="72.09" y="208.9" font-size="5" fill="#333" style="stroke-width:0" transform="rotate(-90 72.09 208.9)" textLength="9.7" lengthAdjust="spacingAndGlyphs">A-G</text>
<rect x="74.04" y="192.50" width="1.00" height="3.10" fill="#555"/>
<text x="76.34" y="208.9" font-size="5" fill="#333" style="stroke-width:0" transform="rotate(-90 76.34 208.9)" textLength="9.7" lengthAdjust="spacingAndGlyphs">A-T</text>
<rect x="78.29" y="192.50" width="1.00" height="3.10" fill="#555"/>
<text x="80.59" y="208.9" font-size="5" fill="#333" style="stroke-width:0" transform="rotate(-90 80.59 208.9)" textLength="9.7" lengthAdjust="spacingAndGlyphs">C-A</text>
<rect x="82.53" y="192.50" width="1.00" height="3.10" fill="#555"/>
<text x="84.83" y="208.9" font-size="5" fill="#333" style="stroke-width:0" transform="rotate(-90 84.83 208.9)" textLength="9.7" lengthAdjust="spacingAndGlyphs">C-C</text>
<rect x="86.78" y="192.50" width="1.00" height="3.10" fill="#555"/>
<text x="89.08" y="208.9" font-size="5" fill="#333" style="stroke-width:0" transform="rotate(-90 89.08 208.9)" textLength="9.7" lengthAdjust="spacingAndGlyphs">C-G</text>
<rect x="91.03" y="192.50" width="1.00" height="3.10" fill="#555"/>
<text x="93.33" y="208.9" font-size="5" fill="#333" style="stroke-width:0" transform="rotate(-90 93.33 208.9)" textLength="9.7" lengthAdjust="spacingAndGlyphs">C-T</text>
<rect x="95.27" y="192.50" width="1.00" height="3.10" fill="#555"/>
<text x="97.57" y="208.9" font-size="5" fill="#333" style="stroke-width:0" transform="rotate(-90 97.57 208.9)" textLength="9.7" lengthAdjust="spacingAndGlyphs">G-A</text>
<rect x="99.52" y="192.50" width="1.00" height="3.10" fill="#555"/>
<text x="101.82" y="208.9" font-size="5" fill="#333" style="stroke-width:0" transform="rotate(-90 101.82 208.9)" textLength="9.7" lengthAdjust="spacingAndGlyphs">G-C</text>
<rect x="103.77" y="192.50" width="1.00" height="3.10" fill="#555"/>
<text x="106.07" y="208.9" font-size="5" fill="#333" style="stroke-width:0" transform="rotate(-90 106.07 208.9)" textLength="9.7" lengthAdjust="spacingAndGlyphs">G-G</text>
<rect x="108.01" y="192.50" width="1.00" height="3.10" fill="#555"/>
<text x="110.31" y="208.9" font-size="5" fill="#333" style="stroke-width:0" transform="rotate(-90 110.31 208.9)" textLength="9.7" lengthAdjust="spacingAndGlyphs">G-T</text>
<rect x="112.26" y="192.50" width="1.00" height="3.10" fill="#555"/>
<text x="114.56" y="208.9" font-size="5" fill="#333" style="stroke-width:0" transform="rotate(-90 114.56 208.9)" textLength="9.7" lengthAdjust="spacingAndGlyphs">T-A</text>
<rect x="116.51" y="192.50" width="1.00" height="3.10" fill="#555"/>
<text x="118.81" y="208.9" font-size="5" fill="#333" style="stroke-width:0" transform="rotate(-90 118.81 208.9)" textLength="9.7" lengthAdjust="spacingAndGlyphs">T-C</text>
<rect x="120.75" y="192.50" width="1.00" height="3.10" fill="#555"/>
<text x="123.05" y="208.9" font-size="5" fill="#333" style="stroke-width:0" transform="rotate(-90 123.05 208.9)" textLength="9.7" lengthAdjust="spacingAndGlyphs">T-G</text>
<rect x="125.00" y="192.50" width="1.00" height="3.10" fill="#555"/>
<text x="127.30" y="208.9" font-size="5" fill="#333" style="stroke-width:0" transform="rotate(-90 127.30 208.9)" textLength="9.7" lengthAdjust="spacingAndGlyphs">T-T</text>
<rect x="131.44" y="192.50" width="1.00" height="3.10" fill="#555"/>
<text x="133.74" y="208.9" font-size="5" fill="#333" style="stroke-width:0" transform="rotate(-90 133.74 208.9)" textLength="9.7" lengthAdjust="spacingAndGlyphs">A-A</text>
<rect x="135.69" y="192.50" width="1.00" height="3.10" fill="#555"/>
<text x="137.99" y="208.9" font-size="5" fill="#333" style="stroke-width:0" transform="rotate(-90 137.99 208.9)" textLength="9.7" lengthAdjust="spacingAndGlyphs">A-C</text>
<rect x="139.93" y="192.50" width="1.00" height="3.10" fill="#555"/>
<text x="142.23" y="208.9" font-size="5" fill="#333" style="stroke-width:0" transform="rotate(-90 142.23 208.9)" textLength="9.7" lengthAdjust="spacingAndGlyphs">A-G</text>
<rect x="144.18" y="192.50" width="1.00" height="3.10" fill="#555"/>
<text x="146.48" y="208.9" font-size="5" fill="#333" style="stroke-width:0" transform="rotate(-90 146.48 208.9)" textLength="9.7" lengthAdjust="spacingAndGlyphs">A-T</text>
<rect x="148.43" y="192.50" width="1.00" height="3.10" fill="#555"/>
<text x="150.73" y="208.9" font-size="5" fill="#333" style="stroke-width:0" transform="rotate(-90 150.73 208.9)" textLength="9.7" lengthAdjust="spacingAndGlyphs">C-A</text>
<rect x="152.67" y="192.50" width="1.00" height="3.10" fill="#555"/>
<text x="154.97" y="208.9" font-size="5" fill="#333" style="stroke-width:0" transform="rotate(-90 154.97 208.9)" textLength="9.7" lengthAdjust="spacingAndGlyphs">C-C</text>
<rect x="156.92" y="192.50" width="1.00" height="3.10" fill="#555"/>
<text x="159.22" y="208.9" font-size="5" fill="#333" style="stroke-width:0" transform="rotate(-90 159.22 208.9)" textLength="9.7" lengthAdjust="spacingAndGlyphs">C-G</text>
<rect x="161.17" y="192.50" width="1.00" height="3.10" fill="#555"/>
<text x="163.47" y="208.9" font-size="5" fill="#333" style="stroke-width:0" transform="rotate(-90 163.47 208.9)" textLength="9.7" lengthAdjust="spacingAndGlyphs">C-T</text>
<rect x="165.41" y="192.50" width="1.00" height="3.10" fill="#555"/>
<text x="167.71" y="208.9" font-size="5" fill="#333" style="stroke-width:0" transform="rotate(-90 167.71 208.9)" textLength="9.7" lengthAdjust="spacingAndGlyphs">G-A</text>
<rect x="169.66" y="192.50" width="1.00" height="3.10" fill="#555"/>
<text x="171.96" y="208.9" font-size="5" fill="#333" style="stroke-width:0" transform="rotate(-90 171.96 208.9)" textLength="9.7" lengthAdjust="spacingAndGlyphs">G-C</text>
<rect x="173.91" y="192.50" width="1.00" height="3.10" fill="#555"/>
<text x="176.21" y="208.9" font-size="5" fill="#333" style="stroke-width:0" transform="rotate(-90 176.21 208.9)" textLength="9.7" lengthAdjust="spacingAndGlyphs">G-G</text>
<rect x="178.15" y="192.50" width="1.00" height="3.10" fill="#555"/>
<text x="180.45" y="208.9" font-size="5" fill="#333" style="stroke-width:0" transform="rotate(-90 180.45 208.9)" textLength="9.7" lengthAdjust="spacingAndGlyphs">G-T</text>
<rect x="182.40" y="192.50" width="1.00" height="3.10" fill="#555"/>
<text x="184.70" y="208.9" font-size="5" fill="#333" style="stroke-width:0" transform="rotate(-90 184.70 208.9)" textLength="9.7" lengthAdjust="spacingAndGlyphs">T-A</text>
<rect x="186.65" y="192.50" width="1.00" height="3.10" fill="#555"/>
<text x="188.95" y="208.9" font-size="5" fill="#333" style="stroke-width:0" transform="rotate(-90 188.95 208.9)" textLength="9.7" lengthAdjust="spacingAndGlyphs">T-C</text>
<rect x="190.89" y="192.50" width="1.00" height="3.10" fill="#555"/>
<text x="193.19" y="208.9" font-size="5" fill="#333" style="stroke-width:0" transform="rotate(-90 193.19 208.9)" textLength="9.7" lengthAdjust="spacingAndGlyphs">T-G</text>
<rect x="195.14" y="192.50" width="1.00" height="3.10" fill="#555"/>
<text x="197.44" y="208.9" font-size="5" fill="#333" style="stroke-width:0" transform="rotate(-90 197.44 208.9)" textLength="9.7" lengthAdjust="spacingAndGlyphs">T-T</text>
<rect x="201.58" y="192.50" width="1.00" height="3.10" fill="#555"/>
<text x="203.88" y="208.9" font-size="5" fill="#333" style="stroke-width:0" transform="rotate(-90 203.88 208.9)" textLength="9.7" lengthAdjust="spacingAndGlyphs">A-A</text>
<rect x="205.83" y="192.50" width="1.00" height="3.10" fill="#555"/>
<text x="208.13" y="208.9" font-size="5" fill="#333" style="stroke-width:0" transform="rotate(-90 208.13 208.9)" textLength="9.7" lengthAdjust="spacingAndGlyphs">A-C</text>
<rect x="210.07" y="192.50" width="1.00" height="3.10" fill="#555"/>
<text x="212.37" y="208.9" font-size="5" fill="#333" style="stroke-width:0" transform="rotate(-90 212.37 208.9)" textLength="9.7" lengthAdjust="spacingAndGlyphs">A-G</text>
<rect x="214.32" y="192.50" width="1.00" height="3.10" fill="#555"/>
<text x="216.62" y="208.9" font-size="5" fill="#333" style="stroke-width:0" transform="rotate(-90 216.62 208.9)" textLength="9.7" lengthAdjust="spacingAndGlyphs">A-T</text>
<rect x="218.57" y="192.50" width="1.00" height="3.10" fill="#555"/>
<text x="220.87" y="208.9" font-size="5" fill="#333" style="stroke-width:0" transform="rotate(-90 220.87 208.9)" textLength="9.7" lengthAdjust="spacingAndGlyphs">C-A</text>
<rect x="222.81" y="192.50" width="1.00" height="3.10" fill="#555"/>
<text x="225.11" y="208.9" font-size="5" fill="#333" style="stroke-width:0" transform="rotate(-90 225.11 208.9)" textLength="9.7" lengthAdjust="spacingAndGlyphs">C-C</text>
<rect x="227.06" y="192.50" width="1.00" height="3.10" fill="#555"/>
<text x="229.36" y="208.9" font-size="5" fill="#333" style="stroke-width:0" transform="rotate(-90 229.36 208.9)" textLength="9.7" lengthAdjust="spacingAndGlyphs">C-G</text>
<rect x="231.31" y="192.50" width="1.00" height="3.10" fill="#555"/>
<text x="233.61" y="208.9" font-size="5" fill="#333" style="stroke-width:0" transform="rotate(-90 233.61 208.9)" textLength="9.7" lengthAdjust="spacingAndGlyphs">C-T</text>
<rect x="235.55" y="192.50" width="1.00" height="3.10" fill="#555"/>
<text x="237.85" y="208.9" font-size="5" fill="#333" style="stroke-width:0" transform="rotate(-90 237.85 208.9)" textLength="9.7" lengthAdjust="spacingAndGlyphs">G-A</text>
<rect x="239.80" y="192.50" width="1.00" height="3.10" fill="#555"/>
<text x="242.10" y="208.9" font-size="5" fill="#333" style="stroke-width:0" transform="rotate(-90 242.10 208.9)" textLength="9.7" lengthAdjust="spacingAndGlyphs">G-C</text>
<rect x="244.05" y="192.50" width="1.00" height="3.10" fill="#555"/>
<text x="246.35" y="208.9" font-size="5" fill="#333" style="stroke-width:0" transform="rotate(-90 246.35 208.9)" textLength="9.7" lengthAdjust="spacingAndGlyphs">G-G</text>
<rect x="248.29" y="192.50" width="1.00" height="3.10" fill="#555"/>
<text x="250.59" y="208.9" font-size="5" fill="#333" style="stroke-width:0" transform="rotate(-90 250.59 208.9)" textLength="9.7" lengthAdjust="spacingAndGlyphs">G-T</text>
<rect x="252.54" y="192.50" width="1.00" height="3.10" fill="#555"/>
<text x="254.84" y="208.9" font-size="5" fill="#333" style="stroke-width:0" transform="rotate(-90 254.84 208.9)" textLength="9.7" lengthAdjust="spacingAndGlyphs">T-A</text>
<rect x="256.79" y="192.50" width="1.00" height="3.10" fill="#555"/>
<text x="259.09" y="208.9" font-size="5" fill="#333" style="stroke-width:0" transform="rotate(-90 259.09 208.9)" textLength="9.7" lengthAdjust="spacingAndGlyphs">T-C</text>
<rect x="261.03" y="192.50" width="1.00" height="3.10" fill="#555"/>
<text x="263.33" y="208.9" font-size="5" fill="#333" style="stroke-width:0" transform="rotate(-90 263.33 208.9)" textLength="9.7" lengthAdjust="spacingAndGlyphs">T-G</text>
<rect x="265.28" y="192.50" width="1.00" height="3.10" fill="#555"/>
<text x="267.58" y="208.9" font-size="5" fill="#333" style="stroke-width:0" transform="rotate(-90 267.58 208.9)" textLength="9.7" lengthAdjust="spacingAndGlyphs">T-T</text>
<rect x="271.72" y="192.50" width="1.00" height="3.10" fill="#555"/>
<text x="274.02" y="208.9" font-size="5" fill="#333" style="stroke-width:0" transform="rotate(-90 274.02 208.9)" textLength="9.7" lengthAdjust="spacingAndGlyphs">A-A</text>
<rect x="275.97" y="192.50" width="1.00" height="3.10" fill="#555"/>
<text x="278.27" y="208.9" font-size="5" fill="#333" style="stroke-width:0" transform="rotate(-90 278.27 208.9)" textLength="9.7" lengthAdjust="spacingAndGlyphs">A-C</text>
<rect x="280.21" y="192.50" width="1.00" height="3.10" fill="#555"/>
<text x="282.51" y="208.9" font-size="5" fill="#333" style="stroke-width:0" transform="rotate(-90 282.51 208.9)" textLength="9.7" lengthAdjust="spacingAndGlyphs">A-G</text>
<rect x="284.46" y="192.50" width="1.00" height="3.10" fill="#555"/>
<text x="286.76" y="208.9" font-size="5" fill="#333" style="stroke-width:0" transform="rotate(-90 286.76 208.9)" textLength="9.7" lengthAdjust="spacingAndGlyphs">A-T</text>
<rect x="288.71" y="192.50" width="1.00" height="3.10" fill="#555"/>
<text x="291.01" y="208.9" font-size="5" fill="#333" style="stroke-width:0" transform="rotate(-90 291.01 208.9)" textLength="9.7" lengthAdjust="spacingAndGlyphs">C-A</text>
<rect x="292.95" y="192.50" width="1.00" height="3.10" fill="#555"/>
<text x="295.25" y="208.9" font-size="5" fill="#333" style="stroke-width:0" transform="rotate(-90 295.25 208.9)" textLength="9.7" lengthAdjust="spacingAndGlyphs">C-C</text>
<rect x="297.20" y="192.50" width="1.00" height="3.10" fill="#555"/>
<text x="299.50" y="208.9" font-size="5" fill="#333" style="stroke-width:0" transform="rotate(-90 299.50 208.9)" textLength="9.7" lengthAdjust="spacingAndGlyphs">C-G</text>
<rect x="301.45" y="192.50" width="1.00" height="3.10" fill="#555"/>
<text x="303.75" y="208.9" font-size="5" fill="#333" style="stroke-width:0" transform="rotate(-90 303.75 208.9)" textLength="9.7" lengthAdjust="spacingAndGlyphs">C-T</text>
<rect x="305.69" y="192.50" width="1.00" height="3.10" fill="#555"/>
<text x="307.99" y="208.9" font-size="5" fill="#333" style="stroke-width:0" transform="rotate(-90 307.99 208.9)" textLength="9.7" lengthAdjust="spacingAndGlyphs">G-A</text>
<rect x="309.94" y="192.50" width="1.00" height="3.10" fill="#555"/>
<text x="312.24" y="208.9" font-size="5" fill="#333" style="stroke-width:0" transform="rotate(-90 312.24 208.9)" textLength="9.7" lengthAdjust="spacingAndGlyphs">G-C</text>
<rect x="314.19" y="192.50" width="1.00" height="3.10" fill="#555"/>
<text x="316.49" y="208.9" font-size="5" fill="#333" style="stroke-width:0" transform="rotate(-90 316.49 208.9)" textLength="9.7" lengthAdjust="spacingAndGlyphs">G-G</text>
<rect x="318.43" y="192.50" width="1.00" height="3.10" fill="#555"/>
<text x="320.73" y="208.9" font-size="5" fill="#333" style="stroke-width:0" transform="rotate(-90 320.73 208.9)" textLength="9.7" lengthAdjust="spacingAndGlyphs">G-T</text>
<rect x="322.68" y="192.50" width="1.00" height="3.10" fill="#555"/>
<text x="324.98" y="208.9" font-size="5" fill="#333" style="stroke-width:0" transform="rotate(-90 324.98 208.9)" textLength="9.7" lengthAdjust="spacingAndGlyphs">T-A</text>
<rect x="326.93" y="192.50" width="1.00" height="3.10" fill="#555"/>
<text x="329.23" y="208.9" font-size="5" fill="#333" style="stroke-width:0" transform="rotate(-90 329.23 208.9)" textLength="9.7" lengthAdjust="spacingAndGlyphs">T-C</text>
<rect x="331.17" y="192.50" width="1.00" height="3.10" fill="#555"/>
<text x="333.47" y="208.9" font-size="5" fill="#333" style="stroke-width:0" transform="rotate(-90 333.47 208.9)" textLength="9.7" lengthAdjust="spacingAndGlyphs">T-G</text>
<rect x="335.42" y="192.50" width="1.00" height="3.10" fill="#555"/>
<text x="337.72" y="208.9" font-size="5" fill="#333" style="stroke-width:0" transform="rotate(-90 337.72 208.9)" textLength="9.7" lengthAdjust="spacingAndGlyphs">T-T</text>
<rect x="341.86" y="192.50" width="1.00" height="3.10" fill="#555"/>
<text x="344.16" y="208.9" font-size="5" fill="#333" style="stroke-width:0" transform="rotate(-90 344.16 208.9)" textLength="9.7" lengthAdjust="spacingAndGlyphs">A-A</text>
<rect x="346.11" y="192.50" width="1.00" height="3.10" fill="#555"/>
<text x="348.41" y="208.9" font-size="5" fill="#333" style="stroke-width:0" transform="rotate(-90 348.41 208.9)" textLength="9.7" lengthAdjust="spacingAndGlyphs">A-C</text>
<rect x="350.35" y="192.50" width="1.00" height="3.10" fill="#555"/>
<text x="352.65" y="208.9" font-size="5" fill="#333" style="stroke-width:0" transform="rotate(-90 352.65 208.9)" textLength="9.7" lengthAdjust="spacingAndGlyphs">A-G</text>
<rect x="354.60" y="192.50" width="1.00" height="3.10" fill="#555"/>
<text x="356.90" y="208.9" font-size="5" fill="#333" style="stroke-width:0" transform="rotate(-90 356.90 208.9)" textLength="9.7" lengthAdjust="spacingAndGlyphs">A-T</text>
<rect x="358.85" y="192.50" width="1.00" height="3.10" fill="#555"/>
<text x="361.15" y="208.9" font-size="5" fill="#333" style="stroke-width:0" transform="rotate(-90 361.15 208.9)" textLength="9.7" lengthAdjust="spacingAndGlyphs">C-A</text>
<rect x="363.09" y="192.50" width="1.00" height="3.10" fill="#555"/>
<text x="365.39" y="208.9" font-size="5" fill="#333" style="stroke-width:0" transform="rotate(-90 365.39 208.9)" textLength="9.7" lengthAdjust="spacingAndGlyphs">C-C</text>
<rect x="367.34" y="192.50" width="1.00" height="3.10" fill="#555"/>
<text x="369.64" y="208.9" font-size="5" fill="#333" style="stroke-width:0" transform="rotate(-90 369.64 208.9)" textLength="9.7" lengthAdjust="spacingAndGlyphs">C-G</text>
<rect x="371.59" y="192.50" width="1.00" height="3.10" fill="#555"/>
<text x="373.89" y="208.9" font-size="5" fill="#333" style="stroke-width:0" transform="rotate(-90 373.89 208.9)" textLength="9.7" lengthAdjust="spacingAndGlyphs">C-T</text>
<rect x="375.83" y="192.50" width="1.00" height="3.10" fill="#555"/>
<text x="378.13" y="208.9" font-size="5" fill="#333" style="stroke-width:0" transform="rotate(-90 378.13 208.9)" textLength="9.7" lengthAdjust="spacingAndGlyphs">G-A</text>
<rect x="380.08" y="192.50" width="1.00" height="3.10" fill="#555"/>
<text x="382.38" y="208.9" font-size="5" fill="#333" style="stroke-width:0" transform="rotate(-90 382.38 208.9)" textLength="9.7" lengthAdjust="spacingAndGlyphs">G-C</text>
<rect x="384.33" y="192.50" width="1.00" height="3.10" fill="#555"/>
<text x="386.63" y="208.9" font-size="5" fill="#333" style="stroke-width:0" transform="rotate(-90 386.63 208.9)" textLength="9.7" lengthAdjust="spacingAndGlyphs">G-G</text>
<rect x="388.57" y="192.50" width="1.00" height="3.10" fill="#555"/>
<text x="390.87" y="208.9" font-size="5" fill="#333" style="stroke-width:0" transform="rotate(-90 390.87 208.9)" textLength="9.7" lengthAdjust="spacingAndGlyphs">G-T</text>
<rect x="392.82" y="192.50" width="1.00" height="3.10" fill="#555"/>
<text x="395.12" y="208.9" font-size="5" fill="#333" style="stroke-width:0" transform="rotate(-90 395.12 208.9)" textLength="9.7" lengthAdjust="spacingAndGlyphs">T-A</text>
<rect x="397.07" y="192.50" width="1.00" height="3.10" fill="#555"/>
<text x="399.37" y="208.9" font-size="5" fill="#333" style="stroke-width:0" transform="rotate(-90 399.37 208.9)" textLength="9.7" lengthAdjust="spacingAndGlyphs">T-C</text>
<rect x="401.31" y="192.50" width="1.00" height="3.10" fill="#555"/>
<text x="403.61" y="208.9" font-size="5" fill="#333" style="stroke-width:0" transform="rotate(-90 403.61 208.9)" textLength="9.7" lengthAdjust="spacingAndGlyphs">T-G</text>
<rect x="405.56" y="192.50" width="1.00" height="3.10" fill="#555"/>
<text x="407.86" y="208.9" font-size="5" fill="#333" style="stroke-width:0" transform="rotate(-90 407.86 208.9)" textLength="9.7" lengthAdjust="spacingAndGlyphs">T-T</text>
<rect x="412.00" y="192.50" width="1.00" height="3.10" fill="#555"/>
<text x="414.30" y="208.9" font-size="5" fill="#333" style="stroke-width:0" transform="rotate(-90 414.30 208.9)" textLength="9.7" lengthAdjust="spacingAndGlyphs">A-A</text>
<rect x="416.25" y="192.50" width="1.00" height="3.10" fill="#555"/>
<text x="418.55" y="208.9" font-size="5" fill="#333" style="stroke-width:0" transform="rotate(-90 418.55 208.9)" textLength="9.7" lengthAdjust="spacingAndGlyphs">A-C</text>
<rect x="420.49" y="192.50" width="1.00" height="3.10" fill="#555"/>
<text x="422.79" y="208.9" font-size="5" fill="#333" style="stroke-width:0" transform="rotate(-90 422.79 208.9)" textLength="9.7" lengthAdjust="spacingAndGlyphs">A-G</text>
<rect x="424.74" y="192.50" width="1.00" height="3.10" fill="#555"/>
<text x="427.04" y="208.9" font-size="5" fill="#333" style="stroke-width:0" transform="rotate(-90 427.04 208.9)" textLength="9.7" lengthAdjust="spacingAndGlyphs">A-T</text>
<rect x="428.99" y="192.50" width="1.00" height="3.10" fill="#555"/>
<text x="431.29" y="208.9" font-size="5" fill="#333" style="stroke-width:0" transform="rotate(-90 431.29 208.9)" textLength="9.7" lengthAdjust="spacingAndGlyphs">C-A</text>
<rect x="433.23" y="192.50" width="1.00" height="3.10" fill="#555"/>
<text x="435.53" y="208.9" font-size="5" fill="#333" style="stroke-width:0" transform="rotate(-90 435.53 208.9)" textLength="9.7" lengthAdjust="spacingAndGlyphs">C-C</text>
<rect x="437.48" y="192.50" width="1.00" height="3.10" fill="#555"/>
<text x="439.78" y="208.9" font-size="5" fill="#333" style="stroke-width:0" transform="rotate(-90 439.78 208.9)" textLength="9.7" lengthAdjust="spacingAndGlyphs">C-G</text>
<rect x="441.73" y="192.50" width="1.00" height="3.10" fill="#555"/>
<text x="444.03" y="208.9" font-size="5" fill="#333" style="stroke-width:0" transform="rotate(-90 444.03 208.9)" textLength="9.7" lengthAdjust="spacingAndGlyphs">C-T</text>
<rect x="445.97" y="192.50" width="1.00" height="3.10" fill="#555"/>
<text x="448.27" y="208.9" font-size="5" fill="#333" style="stroke-width:0" transform="rotate(-90 448.27 208.9)" textLength="9.7" lengthAdjust="spacingAndGlyphs">G-A</text>
<rect x="450.22" y="192.50" width="1.00" height="3.10" fill="#555"/>
<text x="452.52" y="208.9" font-size="5" fill="#333" style="stroke-width:0" transform="rotate(-90 452.52 208.9)" textLength="9.7" lengthAdjust="spacingAndGlyphs">G-C</text>
<rect x="454.47" y="192.50" width="1.00" height="3.10" fill="#555"/>
<text x="456.77" y="208.9" font-size="5" fill="#333" style="stroke-width:0" transform="rotate(-90 456.77 208.9)" textLength="9.7" lengthAdjust="spacingAndGlyphs">G-G</text>
<rect x="458.71" y="192.50" width="1.00" height="3.10" fill="#555"/>
<text x="461.01" y="208.9" font-size="5" fill="#333" style="stroke-width:0" transform="rotate(-90 461.01 208.9)" textLength="9.7" lengthAdjust="spacingAndGlyphs">G-T</text>
<rect x="462.96" y="192.50" width="1.00" height="3.10" fill="#555"/>
<text x="465.26" y="208.9" font-size="5" fill="#333" style="stroke-width:0" transform="rotate(-90 465.26 208.9)" textLength="9.7" lengthAdjust="spacingAndGlyphs">T-A</text>
<rect x="467.21" y="192.50" width="1.00" height="3.10" fill="#555"/>
<text x="469.51" y="208.9" font-size="5" fill="#333" style="stroke-width:0" transform="rotate(-90 469.51 208.9)" textLength="9.7" lengthAdjust="spacingAndGlyphs">T-C</text>
<rect x="471.45" y="192.50" width="1.00" height="3.10" fill="#555"/>
<text x="473.75" y="208.9" font-size="5" fill="#333" style="stroke-width:0" transform="rotate(-90 473.75 208.9)" textLength="9.7" lengthAdjust="spacingAndGlyphs">T-G</text>
<rect x="475.70" y="192.50" width="1.00" height="3.10" fill="#555"/>
<text x="478.00" y="208.9" font-size="5" fill="#333" style="stroke-width:0" transform="rotate(-90 478.00 208.9)" textLength="9.7" lengthAdjust="spacingAndGlyphs">T-T</text>
<text x="33.60" y="114.45" font-size="11.4" fill="#231f20" text-anchor="middle" textLength="48.9" lengthAdjust="spacingAndGlyphs" transform="rotate(-90 33.60 114.45)" style="stroke-width:0.15px">Contributions</text>
<text x="214.80" y="220.90" font-size="10.2" fill="#231f20" textLength="109.5" lengthAdjust="spacingAndGlyphs">Tri-nucleotide sequence motifs</text>
<text x="8.1" y="248.6" font-size="12.6" font-weight="bold" fill="#000" textLength="7.6" lengthAdjust="spacingAndGlyphs">B</text>
<rect x="53.25" y="258.90" width="6.30" height="25.80" fill="#2c2a7e"/>
<rect x="53.25" y="255.10" width="6.30" height="3.80" fill="#d0201c"/>
<rect x="60.54" y="270.30" width="6.30" height="14.40" fill="#2c2a7e"/>
<rect x="60.54" y="269.10" width="6.30" height="1.20" fill="#d0201c"/>
<rect x="67.84" y="268.50" width="6.30" height="16.20" fill="#2c2a7e"/>
<rect x="67.84" y="266.50" width="6.30" height="2.00" fill="#d0201c"/>
<rect x="75.13" y="264.80" width="6.30" height="19.90" fill="#2c2a7e"/>
<rect x="75.13" y="263.70" width="6.30" height="1.10" fill="#d0201c"/>
<rect x="82.43" y="259.80" width="6.30" height="24.90" fill="#2c2a7e"/>
<rect x="82.43" y="258.90" width="6.30" height="0.90" fill="#d0201c"/>
<rect x="89.72" y="262.60" width="6.30" height="22.10" fill="#2c2a7e"/>
<rect x="89.72" y="260.90" width="6.30" height="1.70" fill="#d0201c"/>
<rect x="97.02" y="267.50" width="6.30" height="17.20" fill="#2c2a7e"/>
<rect x="97.02" y="266.20" width="6.30" height="1.30" fill="#d0201c"/>
<rect x="104.31" y="270.00" width="6.30" height="14.70" fill="#2c2a7e"/>
<rect x="104.31" y="268.30" width="6.30" height="1.70" fill="#d0201c"/>
<rect x="111.61" y="265.70" width="6.30" height="19.00" fill="#2c2a7e"/>
<rect x="111.61" y="265.50" width="6.30" height="0.20" fill="#d0201c"/>
<rect x="118.90" y="270.90" width="6.30" height="13.80" fill="#2c2a7e"/>
<rect x="118.90" y="270.60" width="6.30" height="0.30" fill="#d0201c"/>
<rect x="126.20" y="271.50" width="6.30" height="13.20" fill="#2c2a7e"/>
<rect x="126.20" y="271.10" width="6.30" height="0.40" fill="#d0201c"/>
<rect x="133.49" y="271.00" width="6.30" height="13.70" fill="#2c2a7e"/>
<rect x="133.49" y="270.20" width="6.30" height="0.80" fill="#d0201c"/>
<rect x="140.78" y="265.20" width="6.30" height="19.50" fill="#2c2a7e"/>
<rect x="140.78" y="264.80" width="6.30" height="0.40" fill="#d0201c"/>
<rect x="148.08" y="270.50" width="6.30" height="14.20" fill="#2c2a7e"/>
<rect x="148.08" y="270.30" width="6.30" height="0.20" fill="#d0201c"/>
<rect x="155.38" y="270.00" width="6.30" height="14.70" fill="#2c2a7e"/>
<rect x="155.38" y="269.10" width="6.30" height="0.90" fill="#d0201c"/>
<rect x="162.67" y="271.80" width="6.30" height="12.90" fill="#2c2a7e"/>
<rect x="162.67" y="270.60" width="6.30" height="1.20" fill="#d0201c"/>
<rect x="169.97" y="274.60" width="6.30" height="10.10" fill="#2c2a7e"/>
<rect x="169.97" y="274.50" width="6.30" height="0.10" fill="#d0201c"/>
<rect x="177.26" y="275.80" width="6.30" height="8.90" fill="#2c2a7e"/>
<rect x="177.26" y="275.60" width="6.30" height="0.20" fill="#d0201c"/>
<rect x="184.56" y="270.00" width="6.30" height="14.70" fill="#2c2a7e"/>
<rect x="184.56" y="269.70" width="6.30" height="0.30" fill="#d0201c"/>
<rect x="191.85" y="278.60" width="6.30" height="6.10" fill="#2c2a7e"/>
<rect x="191.85" y="278.50" width="6.30" height="0.10" fill="#d0201c"/>
<rect x="199.14" y="274.00" width="6.30" height="10.70" fill="#2c2a7e"/>
<rect x="199.14" y="273.10" width="6.30" height="0.90" fill="#d0201c"/>
<rect x="206.44" y="273.40" width="6.30" height="11.30" fill="#2c2a7e"/>
<rect x="206.44" y="273.10" width="6.30" height="0.30" fill="#d0201c"/>
<rect x="213.74" y="276.50" width="6.30" height="8.20" fill="#2c2a7e"/>
<rect x="213.74" y="275.40" width="6.30" height="1.10" fill="#d0201c"/>
<rect x="221.03" y="274.60" width="6.30" height="10.10" fill="#2c2a7e"/>
<rect x="221.03" y="273.50" width="6.30" height="1.10" fill="#d0201c"/>
<rect x="228.32" y="276.20" width="6.30" height="8.50" fill="#2c2a7e"/>
<rect x="228.32" y="276.00" width="6.30" height="0.20" fill="#d0201c"/>
<rect x="235.62" y="274.90" width="6.30" height="9.80" fill="#2c2a7e"/>
<rect x="235.62" y="274.70" width="6.30" height="0.20" fill="#d0201c"/>
<rect x="242.92" y="276.20" width="6.30" height="8.50" fill="#2c2a7e"/>
<rect x="242.92" y="275.80" width="6.30" height="0.40" fill="#d0201c"/>
<rect x="250.21" y="276.90" width="6.30" height="7.80" fill="#2c2a7e"/>
<rect x="250.21" y="276.80" width="6.30" height="0.10" fill="#d0201c"/>
<rect x="257.50" y="277.40" width="6.30" height="7.30" fill="#2c2a7e"/>
<rect x="257.50" y="277.20" width="6.30" height="0.20" fill="#d0201c"/>
<rect x="264.80" y="278.90" width="6.30" height="5.80" fill="#2c2a7e"/>
<rect x="264.80" y="278.70" width="6.30" height="0.20" fill="#d0201c"/>
<rect x="272.10" y="278.20" width="6.30" height="6.50" fill="#2c2a7e"/>
<rect x="272.10" y="277.40" width="6.30" height="0.80" fill="#d0201c"/>
<rect x="279.39" y="280.80" width="6.30" height="3.90" fill="#2c2a7e"/>
<rect x="279.39" y="280.00" width="6.30" height="0.80" fill="#d0201c"/>
<rect x="286.69" y="280.00" width="6.30" height="4.70" fill="#2c2a7e"/>
<rect x="286.69" y="279.80" width="6.30" height="0.20" fill="#d0201c"/>
<rect x="293.98" y="282.30" width="6.30" height="2.40" fill="#2c2a7e"/>
<rect x="293.98" y="281.50" width="6.30" height="0.80" fill="#d0201c"/>
<rect x="301.27" y="283.10" width="6.30" height="1.60" fill="#2c2a7e"/>
<rect x="308.57" y="284.40" width="6.30" height="0.30" fill="#2c2a7e"/>
<rect x="308.57" y="284.20" width="6.30" height="0.20" fill="#d0201c"/>
<rect x="45.50" y="253.80" width="270.50" height="1.20" fill="#8f8f8f"/>
<rect x="315.40" y="253.80" width="1.20" height="30.90" fill="#6a6a6a"/>
<rect x="45.00" y="253.80" width="1.00" height="31.40" fill="#4d4d4d"/>
<rect x="45.00" y="284.20" width="271.00" height="1.00" fill="#4d4d4d"/>
<rect x="317.80" y="254.10" width="9.50" height="30.60" fill="#c9cdd8"/>
<rect x="45.95" y="322.50" width="6.30" height="0.90" fill="#d0201c"/>
<rect x="53.25" y="321.80" width="6.30" height="1.60" fill="#2c2a7e"/>
<rect x="53.25" y="320.80" width="6.30" height="1.00" fill="#d0201c"/>
<rect x="60.54" y="307.70" width="6.30" height="15.70" fill="#2c2a7e"/>
<rect x="60.54" y="305.70" width="6.30" height="2.00" fill="#d0201c"/>
<rect x="67.84" y="295.70" width="6.30" height="27.70" fill="#2c2a7e"/>
<rect x="67.84" y="293.80" width="6.30" height="1.90" fill="#d0201c"/>
<rect x="75.13" y="304.90" width="6.30" height="18.50" fill="#2c2a7e"/>
<rect x="75.13" y="302.30" width="6.30" height="2.60" fill="#d0201c"/>
<rect x="89.72" y="322.30" width="6.30" height="1.10" fill="#2c2a7e"/>
<rect x="89.72" y="321.80" width="6.30" height="0.50" fill="#d0201c"/>
<rect x="97.02" y="321.20" width="6.30" height="2.20" fill="#2c2a7e"/>
<rect x="97.02" y="320.60" width="6.30" height="0.60" fill="#d0201c"/>
<rect x="111.61" y="321.80" width="6.30" height="1.60" fill="#2c2a7e"/>
<rect x="118.90" y="314.20" width="6.30" height="9.20" fill="#2c2a7e"/>
<rect x="118.90" y="313.10" width="6.30" height="1.10" fill="#d0201c"/>
<rect x="126.20" y="322.30" width="6.30" height="1.10" fill="#2c2a7e"/>
<rect x="126.20" y="321.80" width="6.30" height="0.50" fill="#d0201c"/>
<rect x="133.49" y="320.80" width="6.30" height="2.60" fill="#2c2a7e"/>
<rect x="140.78" y="322.90" width="6.30" height="0.50" fill="#d0201c"/>
<rect x="148.08" y="322.90" width="6.30" height="0.50" fill="#2c2a7e"/>
<rect x="148.08" y="322.60" width="6.30" height="0.30" fill="#d0201c"/>
<rect x="155.38" y="323.00" width="6.30" height="0.40" fill="#d0201c"/>
<rect x="162.67" y="321.80" width="6.30" height="1.60" fill="#2c2a7e"/>
<rect x="169.97" y="322.00" width="6.30" height="1.40" fill="#2c2a7e"/>
<rect x="169.97" y="321.50" width="6.30" height="0.50" fill="#d0201c"/>
<rect x="177.26" y="315.70" width="6.30" height="7.70" fill="#2c2a7e"/>
<rect x="177.26" y="314.90" width="6.30" height="0.80" fill="#d0201c"/>
<rect x="184.56" y="323.00" width="6.30" height="0.40" fill="#d0201c"/>
<rect x="191.85" y="316.30" width="6.30" height="7.10" fill="#2c2a7e"/>
<rect x="191.85" y="315.70" width="6.30" height="0.60" fill="#d0201c"/>
<rect x="206.44" y="323.00" width="6.30" height="0.40" fill="#d0201c"/>
<rect x="213.74" y="320.00" width="6.30" height="3.40" fill="#2c2a7e"/>
<rect x="213.74" y="319.40" width="6.30" height="0.60" fill="#d0201c"/>
<rect x="221.03" y="322.20" width="6.30" height="1.20" fill="#2c2a7e"/>
<rect x="228.32" y="322.40" width="6.30" height="1.00" fill="#2c2a7e"/>
<rect x="228.32" y="322.20" width="6.30" height="0.20" fill="#d0201c"/>
<rect x="235.62" y="322.20" width="6.30" height="1.20" fill="#2c2a7e"/>
<rect x="242.92" y="322.90" width="6.30" height="0.50" fill="#d0201c"/>
<rect x="250.21" y="322.90" width="6.30" height="0.50" fill="#d0201c"/>
<rect x="257.50" y="322.90" width="6.30" height="0.50" fill="#d0201c"/>
<rect x="264.80" y="322.80" width="6.30" height="0.60" fill="#d0201c"/>
<rect x="272.10" y="323.00" width="6.30" height="0.40" fill="#2c2a7e"/>
<rect x="272.10" y="322.60" width="6.30" height="0.40" fill="#d0201c"/>
<rect x="286.69" y="322.90" width="6.30" height="0.50" fill="#d0201c"/>
<rect x="301.27" y="322.80" width="6.30" height="0.60" fill="#2c2a7e"/>
<rect x="308.57" y="322.90" width="6.30" height="0.50" fill="#d0201c"/>
<rect x="45.50" y="292.00" width="270.50" height="1.20" fill="#8f8f8f"/>
<rect x="315.40" y="292.00" width="1.20" height="31.40" fill="#6a6a6a"/>
<rect x="45.00" y="292.00" width="1.00" height="31.90" fill="#4d4d4d"/>
<rect x="45.00" y="322.90" width="271.00" height="1.00" fill="#4d4d4d"/>
<rect x="317.80" y="292.30" width="9.50" height="31.10" fill="#c9cdd8"/>
<rect x="53.25" y="354.80" width="6.30" height="6.90" fill="#d0201c"/>
<rect x="60.54" y="358.80" width="6.30" height="2.90" fill="#d0201c"/>
<rect x="75.13" y="358.00" width="6.30" height="3.70" fill="#d0201c"/>
<rect x="82.43" y="355.40" width="6.30" height="6.30" fill="#d0201c"/>
<rect x="89.72" y="359.50" width="6.30" height="2.20" fill="#d0201c"/>
<rect x="97.02" y="354.50" width="6.30" height="7.20" fill="#d0201c"/>
<rect x="104.31" y="354.20" width="6.30" height="7.50" fill="#2c2a7e"/>
<rect x="104.31" y="332.50" width="6.30" height="21.70" fill="#d0201c"/>
<rect x="111.61" y="354.20" width="6.30" height="7.50" fill="#d0201c"/>
<rect x="118.90" y="360.20" width="6.30" height="1.50" fill="#2c2a7e"/>
<rect x="118.90" y="356.80" width="6.30" height="3.40" fill="#d0201c"/>
<rect x="126.20" y="356.80" width="6.30" height="4.90" fill="#2c2a7e"/>
<rect x="126.20" y="347.80" width="6.30" height="9.00" fill="#d0201c"/>
<rect x="133.49" y="353.10" width="6.30" height="8.60" fill="#d0201c"/>
<rect x="140.78" y="360.90" width="6.30" height="0.80" fill="#d0201c"/>
<rect x="148.08" y="358.00" width="6.30" height="3.70" fill="#2c2a7e"/>
<rect x="148.08" y="350.20" width="6.30" height="7.80" fill="#d0201c"/>
<rect x="155.38" y="353.40" width="6.30" height="8.30" fill="#d0201c"/>
<rect x="162.67" y="360.20" width="6.30" height="1.50" fill="#2c2a7e"/>
<rect x="162.67" y="357.10" width="6.30" height="3.10" fill="#d0201c"/>
<rect x="169.97" y="353.40" width="6.30" height="8.30" fill="#2c2a7e"/>
<rect x="169.97" y="346.80" width="6.30" height="6.60" fill="#d0201c"/>
<rect x="177.26" y="354.20" width="6.30" height="7.50" fill="#d0201c"/>
<rect x="184.56" y="360.20" width="6.30" height="1.50" fill="#d0201c"/>
<rect x="191.85" y="359.40" width="6.30" height="2.30" fill="#2c2a7e"/>
<rect x="191.85" y="357.80" width="6.30" height="1.60" fill="#d0201c"/>
<rect x="199.14" y="357.20" width="6.30" height="4.50" fill="#d0201c"/>
<rect x="221.03" y="360.60" width="6.30" height="1.10" fill="#d0201c"/>
<rect x="228.32" y="358.00" width="6.30" height="3.70" fill="#d0201c"/>
<rect x="235.62" y="361.10" width="6.30" height="0.60" fill="#2c2a7e"/>
<rect x="235.62" y="357.70" width="6.30" height="3.40" fill="#d0201c"/>
<rect x="242.92" y="357.40" width="6.30" height="4.30" fill="#d0201c"/>
<rect x="250.21" y="361.40" width="6.30" height="0.30" fill="#d0201c"/>
<rect x="257.50" y="361.40" width="6.30" height="0.30" fill="#d0201c"/>
<rect x="264.80" y="359.50" width="6.30" height="2.20" fill="#d0201c"/>
<rect x="279.39" y="360.60" width="6.30" height="1.10" fill="#d0201c"/>
<rect x="286.69" y="360.20" width="6.30" height="1.50" fill="#d0201c"/>
<rect x="293.98" y="360.20" width="6.30" height="1.50" fill="#2c2a7e"/>
<rect x="293.98" y="356.00" width="6.30" height="4.20" fill="#d0201c"/>
<rect x="308.57" y="361.30" width="6.30" height="0.40" fill="#2c2a7e"/>
<rect x="45.50" y="330.50" width="270.50" height="1.20" fill="#8f8f8f"/>
<rect x="315.40" y="330.50" width="1.20" height="31.20" fill="#6a6a6a"/>
<rect x="45.00" y="330.50" width="1.00" height="31.70" fill="#4d4d4d"/>
<rect x="45.00" y="361.20" width="271.00" height="1.00" fill="#4d4d4d"/>
<rect x="317.80" y="330.80" width="9.50" height="30.90" fill="#c9cdd8"/>
<rect x="45.95" y="376.50" width="6.30" height="23.80" fill="#2c2a7e"/>
<rect x="45.95" y="371.00" width="6.30" height="5.50" fill="#d0201c"/>
<rect x="53.25" y="383.30" width="6.30" height="17.00" fill="#2c2a7e"/>
<rect x="53.25" y="379.80" width="6.30" height="3.50" fill="#d0201c"/>
<rect x="60.54" y="388.50" width="6.30" height="11.80" fill="#2c2a7e"/>
<rect x="60.54" y="386.00" width="6.30" height="2.50" fill="#d0201c"/>
<rect x="75.13" y="399.90" width="6.30" height="0.40" fill="#2c2a7e"/>
<rect x="75.13" y="399.55" width="6.30" height="0.35" fill="#d0201c"/>
<rect x="82.43" y="399.90" width="6.30" height="0.40" fill="#2c2a7e"/>
<rect x="82.43" y="399.55" width="6.30" height="0.35" fill="#d0201c"/>
<rect x="89.72" y="399.90" width="6.30" height="0.40" fill="#2c2a7e"/>
<rect x="89.72" y="399.55" width="6.30" height="0.35" fill="#d0201c"/>
<rect x="97.02" y="399.90" width="6.30" height="0.40" fill="#2c2a7e"/>
<rect x="97.02" y="399.55" width="6.30" height="0.35" fill="#d0201c"/>
<rect x="104.31" y="399.90" width="6.30" height="0.40" fill="#2c2a7e"/>
<rect x="104.31" y="399.55" width="6.30" height="0.35" fill="#d0201c"/>
<rect x="111.61" y="399.90" width="6.30" height="0.40" fill="#2c2a7e"/>
<rect x="111.61" y="399.55" width="6.30" height="0.35" fill="#d0201c"/>
<rect x="126.20" y="399.90" width="6.30" height="0.40" fill="#2c2a7e"/>
<rect x="126.20" y="399.55" width="6.30" height="0.35" fill="#d0201c"/>
<rect x="133.49" y="399.90" width="6.30" height="0.40" fill="#2c2a7e"/>
<rect x="133.49" y="399.55" width="6.30" height="0.35" fill="#d0201c"/>
<rect x="140.78" y="399.90" width="6.30" height="0.40" fill="#2c2a7e"/>
<rect x="140.78" y="399.55" width="6.30" height="0.35" fill="#d0201c"/>
<rect x="148.08" y="399.90" width="6.30" height="0.40" fill="#2c2a7e"/>
<rect x="148.08" y="399.55" width="6.30" height="0.35" fill="#d0201c"/>
<rect x="155.38" y="399.90" width="6.30" height="0.40" fill="#2c2a7e"/>
<rect x="155.38" y="399.55" width="6.30" height="0.35" fill="#d0201c"/>
<rect x="162.67" y="399.90" width="6.30" height="0.40" fill="#2c2a7e"/>
<rect x="162.67" y="399.55" width="6.30" height="0.35" fill="#d0201c"/>
<rect x="169.97" y="399.90" width="6.30" height="0.40" fill="#2c2a7e"/>
<rect x="169.97" y="399.55" width="6.30" height="0.35" fill="#d0201c"/>
<rect x="177.26" y="399.90" width="6.30" height="0.40" fill="#2c2a7e"/>
<rect x="177.26" y="399.70" width="6.30" height="0.20" fill="#d0201c"/>
<rect x="184.56" y="399.90" width="6.30" height="0.40" fill="#2c2a7e"/>
<rect x="184.56" y="399.70" width="6.30" height="0.20" fill="#d0201c"/>
<rect x="199.14" y="399.90" width="6.30" height="0.40" fill="#d0201c"/>
<rect x="206.44" y="399.90" width="6.30" height="0.40" fill="#d0201c"/>
<rect x="213.74" y="399.90" width="6.30" height="0.40" fill="#d0201c"/>
<rect x="228.32" y="399.90" width="6.30" height="0.40" fill="#d0201c"/>
<rect x="235.62" y="399.90" width="6.30" height="0.40" fill="#d0201c"/>
<rect x="242.92" y="399.90" width="6.30" height="0.40" fill="#d0201c"/>
<rect x="257.50" y="399.90" width="6.30" height="0.40" fill="#d0201c"/>
<rect x="264.80" y="399.90" width="6.30" height="0.40" fill="#d0201c"/>
<rect x="272.10" y="399.90" width="6.30" height="0.40" fill="#d0201c"/>
<rect x="286.69" y="399.90" width="6.30" height="0.40" fill="#d0201c"/>
<rect x="293.98" y="399.90" width="6.30" height="0.40" fill="#d0201c"/>
<rect x="301.27" y="399.90" width="6.30" height="0.40" fill="#d0201c"/>
<rect x="45.50" y="368.80" width="270.50" height="1.20" fill="#8f8f8f"/>
<rect x="315.40" y="368.80" width="1.20" height="31.50" fill="#6a6a6a"/>
<rect x="45.00" y="368.80" width="1.00" height="32.00" fill="#4d4d4d"/>
<rect x="45.00" y="399.80" width="271.00" height="1.00" fill="#4d4d4d"/>
<rect x="317.80" y="369.10" width="9.50" height="31.20" fill="#c9cdd8"/>
<rect x="42.40" y="254.50" width="3.10" height="1.00" fill="#4d4d4d"/>
<rect x="42.40" y="262.00" width="3.10" height="1.00" fill="#4d4d4d"/>
<rect x="42.40" y="269.20" width="3.10" height="1.00" fill="#4d4d4d"/>
<rect x="42.40" y="276.70" width="3.10" height="1.00" fill="#4d4d4d"/>
<rect x="42.40" y="284.20" width="3.10" height="1.00" fill="#4d4d4d"/>
<text x="39.30" y="257.80" font-size="8.9" fill="#231f20" text-anchor="end" textLength="13.799999999999999" lengthAdjust="spacingAndGlyphs">400</text>
<text x="39.30" y="287.50" font-size="8.9" fill="#231f20" text-anchor="end" textLength="4.6" lengthAdjust="spacingAndGlyphs">0</text>
<rect x="42.40" y="295.80" width="3.10" height="1.00" fill="#4d4d4d"/>
<rect x="42.40" y="305.00" width="3.10" height="1.00" fill="#4d4d4d"/>
<rect x="42.40" y="314.00" width="3.10" height="1.00" fill="#4d4d4d"/>
<rect x="42.40" y="322.80" width="3.10" height="1.00" fill="#4d4d4d"/>
<text x="39.30" y="299.10" font-size="8.9" fill="#231f20" text-anchor="end" textLength="13.799999999999999" lengthAdjust="spacingAndGlyphs">300</text>
<text x="39.30" y="326.10" font-size="8.9" fill="#231f20" text-anchor="end" textLength="4.6" lengthAdjust="spacingAndGlyphs">0</text>
<rect x="42.40" y="330.70" width="3.10" height="1.00" fill="#4d4d4d"/>
<rect x="42.40" y="338.70" width="3.10" height="1.00" fill="#4d4d4d"/>
<rect x="42.40" y="346.00" width="3.10" height="1.00" fill="#4d4d4d"/>
<rect x="42.40" y="353.80" width="3.10" height="1.00" fill="#4d4d4d"/>
<rect x="42.40" y="361.20" width="3.10" height="1.00" fill="#4d4d4d"/>
<text x="39.30" y="334.00" font-size="8.9" fill="#231f20" text-anchor="end" textLength="13.799999999999999" lengthAdjust="spacingAndGlyphs">100</text>
<text x="39.30" y="364.50" font-size="8.9" fill="#231f20" text-anchor="end" textLength="4.6" lengthAdjust="spacingAndGlyphs">0</text>
<rect x="42.40" y="370.30" width="3.10" height="1.00" fill="#4d4d4d"/>
<rect x="42.40" y="380.00" width="3.10" height="1.00" fill="#4d4d4d"/>
<rect x="42.40" y="390.00" width="3.10" height="1.00" fill="#4d4d4d"/>
<rect x="42.40" y="399.80" width="3.10" height="1.00" fill="#4d4d4d"/>
<text x="39.30" y="373.60" font-size="8.9" fill="#231f20" text-anchor="end" textLength="18.4" lengthAdjust="spacingAndGlyphs">3000</text>
<text x="39.30" y="403.10" font-size="8.9" fill="#231f20" text-anchor="end" textLength="4.6" lengthAdjust="spacingAndGlyphs">0</text>
<text x="320.10" y="269.55" font-size="7.0" fill="#231f20" text-anchor="middle" textLength="18.3" lengthAdjust="spacingAndGlyphs" transform="rotate(90 320.10 269.55)" style="stroke-width:0.22px">Aging</text>
<text x="320.10" y="308.00" font-size="7.0" fill="#231f20" text-anchor="middle" textLength="27" lengthAdjust="spacingAndGlyphs" transform="rotate(90 320.10 308.00)" style="stroke-width:0.22px">APOBEC</text>
<text x="320.10" y="346.40" font-size="7.0" fill="#231f20" text-anchor="middle" textLength="10.8" lengthAdjust="spacingAndGlyphs" transform="rotate(90 320.10 346.40)" style="stroke-width:0.22px">AID</text>
<text x="320.10" y="384.85" font-size="7.0" fill="#231f20" text-anchor="middle" textLength="11.2" lengthAdjust="spacingAndGlyphs" transform="rotate(90 320.10 384.85)" style="stroke-width:0.22px">MSI</text>
<rect x="253.40" y="256.00" width="6.20" height="7.40" fill="#d0201c"/>
<rect x="253.40" y="266.30" width="6.20" height="7.40" fill="#2c2a7e"/>
<text x="262.00" y="262.50" font-size="8.6" fill="#231f20" textLength="34.2" lengthAdjust="spacingAndGlyphs">Clustered</text>
<text x="262.00" y="272.70" font-size="8.6" fill="#231f20" textLength="52.2" lengthAdjust="spacingAndGlyphs">Non-Clustered</text>
<text x="14.60" y="327.75" font-size="10.5" fill="#231f20" text-anchor="middle" textLength="107.3" lengthAdjust="spacingAndGlyphs" transform="rotate(-90 14.60 327.75)" style="stroke-width:0.15px">Contributions (# of mutations)</text>
<text x="148.30" y="412.40" font-size="10.2" fill="#231f20" textLength="65.9" lengthAdjust="spacingAndGlyphs">37 primary PMBLs</text>
<text x="343.5" y="248.5" font-size="13.2" font-weight="bold" fill="#000" textLength="8.4" lengthAdjust="spacingAndGlyphs">C</text>
<rect x="394.60" y="253.15" width="20.20" height="7.50" fill="#963a8e"/>
<rect x="414.80" y="253.15" width="7.70" height="7.50" fill="#2898d8"/>
<rect x="422.50" y="253.15" width="50.30" height="7.50" fill="#e1a03f"/>
<rect x="410.20" y="256.40" width="17.30" height="1.00" fill="#3a3a3a" opacity="0.8"/>
<rect x="480.60" y="253.50" width="12.40" height="6.80" fill="#5f5f5f"/>
<rect x="391.50" y="256.40" width="2.90" height="1.00" fill="#4d4d4d"/>
<text x="387.90" y="259.40" font-size="8.1" fill="#231f20" text-anchor="end" font-style="italic">HIST1H1E</text>
<rect x="394.60" y="262.40" width="30.80" height="7.50" fill="#963a8e"/>
<rect x="425.40" y="262.40" width="22.60" height="7.50" fill="#2898d8"/>
<rect x="448.00" y="262.40" width="24.80" height="7.50" fill="#e1a03f"/>
<rect x="421.10" y="265.65" width="8.70" height="1.00" fill="#3a3a3a" opacity="0.8"/>
<rect x="444.20" y="265.65" width="7.50" height="1.00" fill="#3a3a3a" opacity="0.8"/>
<rect x="480.60" y="262.75" width="23.10" height="6.80" fill="#5f5f5f"/>
<rect x="391.50" y="265.65" width="2.90" height="1.00" fill="#4d4d4d"/>
<text x="387.90" y="268.65" font-size="8.1" fill="#231f20" text-anchor="end" font-style="italic">STAT6</text>
<rect x="394.60" y="271.65" width="35.20" height="7.50" fill="#963a8e"/>
<rect x="429.80" y="271.65" width="1.90" height="7.50" fill="#2898d8"/>
<rect x="431.70" y="271.65" width="41.10" height="7.50" fill="#e1a03f"/>
<rect x="425.80" y="274.90" width="11.30" height="1.00" fill="#3a3a3a" opacity="0.8"/>
<rect x="480.60" y="272.00" width="10.00" height="6.80" fill="#5f5f5f"/>
<rect x="391.50" y="274.90" width="2.90" height="1.00" fill="#4d4d4d"/>
<text x="387.90" y="277.90" font-size="8.1" fill="#231f20" text-anchor="end" font-style="italic">IRF2BP2</text>
<rect x="394.60" y="280.90" width="37.40" height="7.50" fill="#963a8e"/>
<rect x="432.00" y="280.90" width="3.40" height="7.50" fill="#2898d8"/>
<rect x="435.40" y="280.90" width="37.40" height="7.50" fill="#e1a03f"/>
<rect x="424.80" y="284.15" width="18.50" height="1.00" fill="#3a3a3a" opacity="0.8"/>
<rect x="480.60" y="281.25" width="5.20" height="6.80" fill="#5f5f5f"/>
<rect x="391.50" y="284.15" width="2.90" height="1.00" fill="#4d4d4d"/>
<text x="387.90" y="287.15" font-size="8.1" fill="#231f20" text-anchor="end" font-style="italic">PAX5</text>
<rect x="394.60" y="290.15" width="45.60" height="7.50" fill="#963a8e"/>
<rect x="440.20" y="290.15" width="11.10" height="7.50" fill="#2898d8"/>
<rect x="451.30" y="290.15" width="21.50" height="7.50" fill="#e1a03f"/>
<rect x="435.60" y="293.40" width="8.40" height="1.00" fill="#3a3a3a" opacity="0.8"/>
<rect x="447.10" y="293.40" width="8.10" height="1.00" fill="#3a3a3a" opacity="0.8"/>
<rect x="480.60" y="290.50" width="12.40" height="6.80" fill="#5f5f5f"/>
<rect x="391.50" y="293.40" width="2.90" height="1.00" fill="#4d4d4d"/>
<text x="387.90" y="296.40" font-size="8.1" fill="#231f20" text-anchor="end" font-style="italic">GNA13</text>
<rect x="394.60" y="299.40" width="45.60" height="7.50" fill="#963a8e"/>
<rect x="440.20" y="299.40" width="10.60" height="7.50" fill="#2898d8"/>
<rect x="450.80" y="299.40" width="22.00" height="7.50" fill="#e1a03f"/>
<rect x="436.10" y="302.65" width="7.50" height="1.00" fill="#3a3a3a" opacity="0.8"/>
<rect x="447.50" y="302.65" width="6.50" height="1.00" fill="#3a3a3a" opacity="0.8"/>
<rect x="480.60" y="299.75" width="23.10" height="6.80" fill="#5f5f5f"/>
<rect x="391.50" y="302.65" width="2.90" height="1.00" fill="#4d4d4d"/>
<text x="387.90" y="305.65" font-size="8.1" fill="#231f20" text-anchor="end" font-style="italic">ZNF217</text>
<rect x="394.60" y="308.65" width="55.20" height="7.50" fill="#963a8e"/>
<rect x="449.80" y="308.65" width="0.70" height="7.50" fill="#2898d8"/>
<rect x="450.50" y="308.65" width="22.30" height="7.50" fill="#e1a03f"/>
<rect x="444.80" y="311.90" width="10.00" height="1.00" fill="#3a3a3a" opacity="0.8"/>
<rect x="480.60" y="309.00" width="13.70" height="6.80" fill="#5f5f5f"/>
<rect x="391.50" y="311.90" width="2.90" height="1.00" fill="#4d4d4d"/>
<text x="387.90" y="314.90" font-size="8.1" fill="#231f20" text-anchor="end" font-style="italic">B2M</text>
<rect x="394.60" y="317.90" width="59.80" height="7.50" fill="#963a8e"/>
<rect x="454.40" y="317.90" width="1.20" height="7.50" fill="#2898d8"/>
<rect x="455.60" y="317.90" width="17.20" height="7.50" fill="#e1a03f"/>
<rect x="450.60" y="321.15" width="9.20" height="1.00" fill="#3a3a3a" opacity="0.8"/>
<rect x="480.60" y="318.25" width="13.60" height="6.80" fill="#5f5f5f"/>
<rect x="391.50" y="321.15" width="2.90" height="1.00" fill="#4d4d4d"/>
<text x="387.90" y="324.15" font-size="8.1" fill="#231f20" text-anchor="end" font-style="italic">TNFAIP3</text>
<rect x="394.60" y="327.15" width="65.10" height="7.50" fill="#963a8e"/>
<rect x="459.70" y="327.15" width="0.50" height="7.50" fill="#2898d8"/>
<rect x="460.20" y="327.15" width="12.60" height="7.50" fill="#e1a03f"/>
<rect x="456.90" y="330.40" width="6.40" height="1.00" fill="#3a3a3a" opacity="0.8"/>
<rect x="480.60" y="327.50" width="12.30" height="6.80" fill="#5f5f5f"/>
<rect x="391.50" y="330.40" width="2.90" height="1.00" fill="#4d4d4d"/>
<text x="387.90" y="333.40" font-size="8.1" fill="#231f20" text-anchor="end" font-style="italic">IL4R</text>
<rect x="394.60" y="336.40" width="68.60" height="7.50" fill="#963a8e"/>
<rect x="463.20" y="336.40" width="0.30" height="7.50" fill="#2898d8"/>
<rect x="463.50" y="336.40" width="9.30" height="7.50" fill="#e1a03f"/>
<rect x="461.00" y="339.65" width="4.90" height="1.00" fill="#3a3a3a" opacity="0.8"/>
<rect x="480.60" y="336.75" width="5.40" height="6.80" fill="#5f5f5f"/>
<rect x="391.50" y="339.65" width="2.90" height="1.00" fill="#4d4d4d"/>
<text x="387.90" y="342.65" font-size="8.1" fill="#231f20" text-anchor="end" font-style="italic">EZH2</text>
<rect x="394.60" y="345.65" width="69.60" height="7.50" fill="#963a8e"/>
<rect x="464.20" y="345.65" width="1.80" height="7.50" fill="#2898d8"/>
<rect x="466.00" y="345.65" width="6.80" height="7.50" fill="#e1a03f"/>
<rect x="460.00" y="348.90" width="9.00" height="1.00" fill="#3a3a3a" opacity="0.8"/>
<rect x="480.60" y="346.00" width="4.10" height="6.80" fill="#5f5f5f"/>
<rect x="391.50" y="348.90" width="2.90" height="1.00" fill="#4d4d4d"/>
<text x="387.90" y="351.90" font-size="8.1" fill="#231f20" text-anchor="end" font-style="italic">IKZF3</text>
<rect x="394.60" y="354.90" width="71.00" height="7.50" fill="#963a8e"/>
<rect x="465.60" y="354.90" width="6.10" height="7.50" fill="#2898d8"/>
<rect x="471.70" y="354.90" width="1.10" height="7.50" fill="#e1a03f"/>
<rect x="462.00" y="358.15" width="6.00" height="1.00" fill="#3a3a3a" opacity="0.8"/>
<rect x="468.50" y="358.15" width="3.50" height="1.00" fill="#3a3a3a" opacity="0.8"/>
<rect x="480.60" y="355.25" width="6.40" height="6.80" fill="#5f5f5f"/>
<rect x="391.50" y="358.15" width="2.90" height="1.00" fill="#4d4d4d"/>
<text x="387.90" y="361.15" font-size="8.1" fill="#231f20" text-anchor="end" font-style="italic">XPO1</text>
<rect x="394.60" y="364.15" width="73.70" height="7.50" fill="#963a8e"/>
<rect x="468.30" y="364.15" width="0.70" height="7.50" fill="#2898d8"/>
<rect x="469.00" y="364.15" width="3.80" height="7.50" fill="#e1a03f"/>
<rect x="466.00" y="367.40" width="4.50" height="1.00" fill="#3a3a3a" opacity="0.8"/>
<rect x="480.60" y="364.50" width="3.10" height="6.80" fill="#5f5f5f"/>
<rect x="391.50" y="367.40" width="2.90" height="1.00" fill="#4d4d4d"/>
<text x="387.90" y="370.40" font-size="8.1" fill="#231f20" text-anchor="end" font-style="italic">CSF2RB</text>
<rect x="394.60" y="373.40" width="77.70" height="7.50" fill="#963a8e"/>
<rect x="472.30" y="373.40" width="0.30" height="7.50" fill="#2898d8"/>
<rect x="472.60" y="373.40" width="0.20" height="7.50" fill="#e1a03f"/>
<rect x="471.00" y="376.65" width="2.00" height="1.00" fill="#3a3a3a" opacity="0.8"/>
<rect x="480.60" y="373.75" width="5.20" height="6.80" fill="#5f5f5f"/>
<rect x="391.50" y="376.65" width="2.90" height="1.00" fill="#4d4d4d"/>
<text x="387.90" y="379.65" font-size="8.1" fill="#231f20" text-anchor="end" font-style="italic">TP53</text>
<rect x="394.60" y="382.65" width="78.20" height="7.50" fill="#963a8e"/>
<rect x="480.60" y="383.00" width="0.40" height="6.80" fill="#5f5f5f"/>
<rect x="391.50" y="385.90" width="2.90" height="1.00" fill="#4d4d4d"/>
<text x="387.90" y="388.90" font-size="8.1" fill="#231f20" text-anchor="end" font-style="italic">HIST2H2BE</text>
<rect x="394.40" y="251.80" width="79.00" height="1.00" fill="#555"/>
<rect x="472.60" y="251.80" width="1.00" height="140.50" fill="#555"/>
<rect x="393.90" y="251.80" width="1.00" height="141.00" fill="#4d4d4d"/>
<rect x="393.90" y="391.40" width="79.70" height="1.00" fill="#4d4d4d"/>
<rect x="394.10" y="392.00" width="1.00" height="2.80" fill="#4d4d4d"/>
<rect x="409.74" y="392.00" width="1.00" height="2.80" fill="#4d4d4d"/>
<rect x="425.38" y="392.00" width="1.00" height="2.80" fill="#4d4d4d"/>
<rect x="441.02" y="392.00" width="1.00" height="2.80" fill="#4d4d4d"/>
<rect x="456.66" y="392.00" width="1.00" height="2.80" fill="#4d4d4d"/>
<rect x="472.30" y="392.00" width="1.00" height="2.80" fill="#4d4d4d"/>
<text x="394.60" y="404.70" font-size="8.9" fill="#231f20" text-anchor="middle" textLength="4.6" lengthAdjust="spacingAndGlyphs">0</text>
<text x="410.24" y="404.70" font-size="8.9" fill="#231f20" text-anchor="middle" textLength="11.3" lengthAdjust="spacingAndGlyphs">0.2</text>
<text x="425.88" y="404.70" font-size="8.9" fill="#231f20" text-anchor="middle" textLength="11.3" lengthAdjust="spacingAndGlyphs">0.4</text>
<text x="441.52" y="404.70" font-size="8.9" fill="#231f20" text-anchor="middle" textLength="11.3" lengthAdjust="spacingAndGlyphs">0.6</text>
<text x="457.16" y="404.70" font-size="8.9" fill="#231f20" text-anchor="middle" textLength="11.3" lengthAdjust="spacingAndGlyphs">0.8</text>
<text x="472.80" y="404.70" font-size="8.9" fill="#231f20" text-anchor="middle" textLength="4.6" lengthAdjust="spacingAndGlyphs">1</text>
<rect x="396.30" y="357.70" width="48.20" height="30.60" fill="#fff" stroke="#333" stroke-width="0.9"/>
<rect x="398.70" y="362.10" width="8.10" height="2.80" fill="#963a8e"/>
<rect x="398.70" y="372.10" width="8.10" height="2.80" fill="#2898d8"/>
<rect x="398.70" y="382.50" width="8.10" height="2.80" fill="#e1a03f"/>
<text x="410.60" y="365.80" font-size="8.1" fill="#231f20" textLength="21.2" lengthAdjust="spacingAndGlyphs">Aging</text>
<text x="410.60" y="375.90" font-size="8.1" fill="#231f20" textLength="31.1" lengthAdjust="spacingAndGlyphs">APOBEC</text>
<text x="410.60" y="386.20" font-size="8.1" fill="#231f20" textLength="13.1" lengthAdjust="spacingAndGlyphs">AID</text>
<rect x="479.80" y="251.80" width="1.00" height="139.60" fill="#4d4d4d"/>
<rect x="479.80" y="390.40" width="26.70" height="1.00" fill="#4d4d4d"/>
<rect x="479.80" y="391.00" width="1.00" height="2.60" fill="#4d4d4d"/>
<rect x="491.50" y="391.00" width="1.00" height="2.60" fill="#4d4d4d"/>
<rect x="503.20" y="391.00" width="1.00" height="2.60" fill="#4d4d4d"/>
<text x="480.10" y="404.70" font-size="8.9" fill="#231f20" text-anchor="middle" textLength="4.6" lengthAdjust="spacingAndGlyphs">0</text>
<text x="492.00" y="404.70" font-size="8.9" fill="#231f20" text-anchor="middle" textLength="9.2" lengthAdjust="spacingAndGlyphs">10</text>
<text x="503.70" y="404.70" font-size="8.9" fill="#231f20" text-anchor="middle" textLength="9.2" lengthAdjust="spacingAndGlyphs">20</text>
<text x="395.80" y="418.50" font-size="10.1" fill="#231f20" textLength="76.6" lengthAdjust="spacingAndGlyphs">Signature proportion</text>
<text x="474.00" y="418.50" font-size="10.1" fill="#231f20" textLength="38.3" lengthAdjust="spacingAndGlyphs">Number of</text>
<text x="475.20" y="430.50" font-size="10.1" fill="#231f20" textLength="36.9" lengthAdjust="spacingAndGlyphs">mutations</text>
<rect x="0.00" y="0.00" width="1.10" height="441.00" fill="#000"/>
<rect x="0.00" y="0.00" width="520.00" height="1.10" fill="#000"/>
<rect x="518.40" y="0.00" width="1.60" height="441.00" fill="#000"/>
<rect x="0.00" y="439.50" width="520.00" height="1.50" fill="#000"/>
</g></svg>
</body></html>
